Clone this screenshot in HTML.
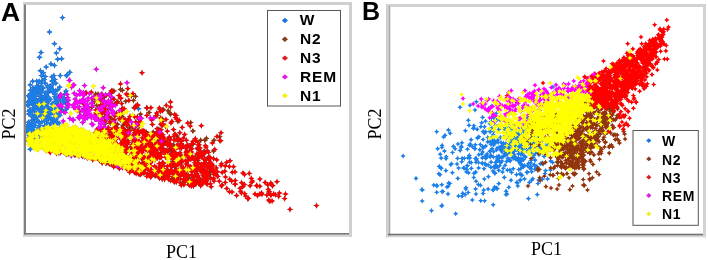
<!DOCTYPE html>
<html><head><meta charset="utf-8"><style>
html,body{margin:0;padding:0;background:#fff;}
body{width:708px;height:260px;position:relative;overflow:hidden;}
.lbl{position:absolute;font-family:"Liberation Sans",Arial,sans-serif;font-weight:bold;font-size:25px;line-height:1;color:#000;}
.ax{position:absolute;font-family:"Liberation Serif","Times New Roman",serif;font-size:18px;line-height:1;color:#000;white-space:nowrap;}
.leg{position:absolute;font-family:"Liberation Sans",Arial,sans-serif;font-weight:bold;color:#000;white-space:nowrap;line-height:1;}
svg{position:absolute;left:0;top:0;}
</style></head><body>
<svg width="708" height="260" viewBox="0 0 708 260">
<defs><filter id="bl" filterUnits="userSpaceOnUse" x="0" y="0" width="708" height="260"><feGaussianBlur stdDeviation="0.4"/></filter>
<marker id="aoW" markerUnits="userSpaceOnUse" markerWidth="1" markerHeight="1" overflow="visible"><path d="M0 -3.3L0.95 -0.95L3.3 0L0.95 0.95L0 3.3L-0.95 0.95L-3.3 0L-0.95 -0.95Z" fill="#1656b0"/></marker>
<marker id="aiW" markerUnits="userSpaceOnUse" markerWidth="1" markerHeight="1" overflow="visible"><path d="M0 -2.3L0.9 -0.9L2.3 0L0.9 0.9L0 2.3L-0.9 0.9L-2.3 0L-0.9 -0.9Z" fill="#1f7fe8"/></marker>
<marker id="aoN2" markerUnits="userSpaceOnUse" markerWidth="1" markerHeight="1" overflow="visible"><path d="M0 -3.3L0.95 -0.95L3.3 0L0.95 0.95L0 3.3L-0.95 0.95L-3.3 0L-0.95 -0.95Z" fill="#6e2a0c"/></marker>
<marker id="aiN2" markerUnits="userSpaceOnUse" markerWidth="1" markerHeight="1" overflow="visible"><path d="M0 -2.3L0.9 -0.9L2.3 0L0.9 0.9L0 2.3L-0.9 0.9L-2.3 0L-0.9 -0.9Z" fill="#923610"/></marker>
<marker id="aoN3" markerUnits="userSpaceOnUse" markerWidth="1" markerHeight="1" overflow="visible"><path d="M0 -3.3L0.95 -0.95L3.3 0L0.95 0.95L0 3.3L-0.95 0.95L-3.3 0L-0.95 -0.95Z" fill="#a81818"/></marker>
<marker id="aiN3" markerUnits="userSpaceOnUse" markerWidth="1" markerHeight="1" overflow="visible"><path d="M0 -2.3L0.9 -0.9L2.3 0L0.9 0.9L0 2.3L-0.9 0.9L-2.3 0L-0.9 -0.9Z" fill="#ff0000"/></marker>
<marker id="aoREM" markerUnits="userSpaceOnUse" markerWidth="1" markerHeight="1" overflow="visible"><path d="M0 -3.3L0.95 -0.95L3.3 0L0.95 0.95L0 3.3L-0.95 0.95L-3.3 0L-0.95 -0.95Z" fill="#a414a8"/></marker>
<marker id="aiREM" markerUnits="userSpaceOnUse" markerWidth="1" markerHeight="1" overflow="visible"><path d="M0 -2.3L0.9 -0.9L2.3 0L0.9 0.9L0 2.3L-0.9 0.9L-2.3 0L-0.9 -0.9Z" fill="#ff00ff"/></marker>
<marker id="aoN1" markerUnits="userSpaceOnUse" markerWidth="1" markerHeight="1" overflow="visible"><path d="M0 -3.3L0.95 -0.95L3.3 0L0.95 0.95L0 3.3L-0.95 0.95L-3.3 0L-0.95 -0.95Z" fill="#e8d800"/></marker>
<marker id="aiN1" markerUnits="userSpaceOnUse" markerWidth="1" markerHeight="1" overflow="visible"><path d="M0 -2.3L0.9 -0.9L2.3 0L0.9 0.9L0 2.3L-0.9 0.9L-2.3 0L-0.9 -0.9Z" fill="#ffff00"/></marker>
<marker id="boW" markerUnits="userSpaceOnUse" markerWidth="1" markerHeight="1" overflow="visible"><path d="M0 -2.8L0.8 -0.8L2.8 0L0.8 0.8L0 2.8L-0.8 0.8L-2.8 0L-0.8 -0.8Z" fill="#1f7fe8"/></marker>
<marker id="biW" markerUnits="userSpaceOnUse" markerWidth="1" markerHeight="1" overflow="visible"><path d="M0 -2L0.85 -0.85L2 0L0.85 0.85L0 2L-0.85 0.85L-2 0L-0.85 -0.85Z" fill="#1f7fe8"/></marker>
<marker id="boN2" markerUnits="userSpaceOnUse" markerWidth="1" markerHeight="1" overflow="visible"><path d="M0 -2.8L0.8 -0.8L2.8 0L0.8 0.8L0 2.8L-0.8 0.8L-2.8 0L-0.8 -0.8Z" fill="#923610"/></marker>
<marker id="biN2" markerUnits="userSpaceOnUse" markerWidth="1" markerHeight="1" overflow="visible"><path d="M0 -2L0.85 -0.85L2 0L0.85 0.85L0 2L-0.85 0.85L-2 0L-0.85 -0.85Z" fill="#923610"/></marker>
<marker id="boN3" markerUnits="userSpaceOnUse" markerWidth="1" markerHeight="1" overflow="visible"><path d="M0 -2.8L0.8 -0.8L2.8 0L0.8 0.8L0 2.8L-0.8 0.8L-2.8 0L-0.8 -0.8Z" fill="#ff0000"/></marker>
<marker id="biN3" markerUnits="userSpaceOnUse" markerWidth="1" markerHeight="1" overflow="visible"><path d="M0 -2L0.85 -0.85L2 0L0.85 0.85L0 2L-0.85 0.85L-2 0L-0.85 -0.85Z" fill="#ff0000"/></marker>
<marker id="boREM" markerUnits="userSpaceOnUse" markerWidth="1" markerHeight="1" overflow="visible"><path d="M0 -2.8L0.8 -0.8L2.8 0L0.8 0.8L0 2.8L-0.8 0.8L-2.8 0L-0.8 -0.8Z" fill="#ff00ff"/></marker>
<marker id="biREM" markerUnits="userSpaceOnUse" markerWidth="1" markerHeight="1" overflow="visible"><path d="M0 -2L0.85 -0.85L2 0L0.85 0.85L0 2L-0.85 0.85L-2 0L-0.85 -0.85Z" fill="#ff00ff"/></marker>
<marker id="boN1" markerUnits="userSpaceOnUse" markerWidth="1" markerHeight="1" overflow="visible"><path d="M0 -2.8L0.8 -0.8L2.8 0L0.8 0.8L0 2.8L-0.8 0.8L-2.8 0L-0.8 -0.8Z" fill="#ffff00"/></marker>
<marker id="biN1" markerUnits="userSpaceOnUse" markerWidth="1" markerHeight="1" overflow="visible"><path d="M0 -2L0.85 -0.85L2 0L0.85 0.85L0 2L-0.85 0.85L-2 0L-0.85 -0.85Z" fill="#ffff00"/></marker></defs>
<!-- panel A frame -->
<rect x="23" y="2" width="329" height="3" fill="#cfcfcf"/>
<rect x="349" y="2" width="3" height="235" fill="#cfcfcf"/>
<rect x="23" y="2" width="1" height="235" fill="#d4d4d4"/>
<rect x="23" y="234.5" width="329" height="2.3" fill="#d2d2d2"/>
<g fill="none" stroke="none" stroke-linecap="butt" filter="url(#bl)">
<defs><polyline id="paW" points="62.5,17.6 49.5,32.0 54.5,43.8 59.7,48.7 41.0,52.5 39.5,57.3 56.4,53.0 57.7,59.2 61.6,58.8 51.0,64.0 46.2,67.0 54.5,65.4 40.4,70.8 43.3,72.7 41.4,75.6 45.2,76.5 53.9,75.6 60.2,75.6 67.3,74.6 69.8,72.3 32.7,81.3 42.3,80.4 45.2,83.3 54.8,79.4 55.8,83.3 50.0,86.2 59.7,87.1 43.3,88.0 66.5,75.8 138.5,108.8 35.9,88.9 53.6,91.9 49.0,112.3 28.8,114.0 29.8,110.3 33.0,87.8 42.0,122.0 33.0,97.1 51.4,112.8 60.3,101.0 30.5,90.3 36.8,131.7 33.3,117.6 51.1,108.4 49.1,89.0 30.0,96.7 50.3,112.7 39.7,115.2 46.8,103.0 53.9,127.8 36.6,119.2 55.7,101.2 38.9,129.3 32.2,111.7 28.4,122.3 58.3,116.0 60.9,97.6 52.8,119.8 52.5,109.7 44.7,125.8 27.6,125.7 63.1,101.5 44.5,120.3 33.0,95.1 34.3,125.8 29.7,100.6 38.6,107.7 34.4,94.7 37.2,108.3 47.8,98.8 41.0,115.6 48.0,123.3 53.1,89.8 44.8,108.2 39.9,89.8 39.5,89.9 28.4,95.8 29.4,103.0 47.8,91.5 36.0,99.9 39.9,91.5 45.8,110.4 39.6,98.6 59.2,96.6 29.9,141.6 45.2,92.9 41.5,92.2 34.6,105.7 34.0,124.3 48.5,128.0 34.6,98.8 38.1,109.3 42.2,88.1 28.3,102.2 39.6,122.8 66.4,109.1 66.0,103.7 34.5,102.6 35.0,96.6 56.8,109.9 29.9,124.0 57.1,113.1 33.0,132.0 38.3,127.9 67.1,107.5 54.3,93.7 30.4,95.7 32.7,127.6 41.1,116.1 56.5,99.3 35.4,101.0 37.6,121.0 34.7,109.7 29.1,140.9 38.9,113.7 44.4,116.7 52.5,80.7 42.5,97.1 38.3,111.8 50.9,118.2 34.7,116.9 46.8,128.7 33.4,116.6 32.5,96.7 59.8,115.3 46.4,129.2 63.7,111.6 44.9,112.5 48.7,125.2 46.3,108.7 64.1,101.2 66.0,91.0 30.0,110.0 31.1,97.9 31.8,120.2 32.8,123.4 52.8,92.0 37.9,115.0 33.2,107.9 47.1,106.8 31.4,102.9 49.5,111.1 54.1,114.5 30.2,99.6 28.2,127.0 34.3,91.1 57.3,98.4 29.1,137.2 45.5,125.5 51.0,109.8 32.3,137.2 27.5,132.4 29.0,128.3 42.6,104.7 35.5,93.2 48.9,100.8 32.6,96.2 37.8,101.7 55.9,97.3 45.2,95.5 37.4,86.9 56.6,115.3 38.8,105.1 58.2,104.8 44.2,120.0 33.5,131.3 55.6,119.6 43.6,99.2 30.3,93.9 28.9,124.5 37.8,93.6 29.9,130.2 31.7,99.0 38.2,112.7 30.1,110.0 39.9,105.6 29.1,111.6 42.7,108.3 36.2,117.1 28.5,102.3 28.0,105.8 40.4,96.3 44.9,112.1 62.3,126.3 39.9,101.8 55.5,118.9 31.0,130.9 59.0,123.1 30.1,114.8 53.3,122.7 32.1,103.7 45.2,118.0 51.0,122.9 47.5,115.2 50.4,87.8 50.2,99.2 30.2,101.7 54.9,96.6 48.1,106.7 47.0,124.4 57.2,122.6 50.3,89.3 29.9,97.7 59.6,106.8 28.5,101.9 55.8,125.4 56.0,98.5 45.1,112.2 48.2,92.7 59.6,95.9 47.7,98.9 34.5,122.8 34.6,115.1 57.3,114.5 39.3,136.0 48.6,87.6 45.1,105.6 28.1,104.4 39.2,129.9 64.6,94.1 62.9,97.8 45.7,107.4 40.3,106.3 36.9,85.9 30.2,132.2 36.1,101.0 44.3,99.8 53.1,84.1 54.8,108.4 53.6,119.9 38.2,85.7 44.5,108.1 39.6,125.5 65.4,99.7 52.1,104.1 48.1,101.3 32.6,92.5 35.9,133.4 46.3,103.3 41.4,90.7 30.2,84.9 35.0,91.8 34.0,95.3 52.3,109.8 40.6,113.4 41.9,107.7 33.3,103.6 46.5,120.5 65.0,101.2 36.1,100.6 42.7,110.2 60.5,107.7 67.9,100.8 49.1,118.1 48.9,117.8 32.7,125.2 53.1,103.5 31.6,100.0 54.1,120.0 43.9,114.0 40.1,96.6 39.0,111.5 61.4,110.0 34.3,101.7 40.2,87.4 45.1,126.3 41.3,101.5 42.4,108.0 55.4,93.9 48.7,97.6 60.8,104.5 56.6,101.7 33.2,126.7 46.5,95.3 35.6,107.1 55.7,90.8 36.8,81.3 50.1,86.5 41.6,83.4 47.6,85.9 40.3,92.0 44.2,79.6 52.3,81.3 39.1,81.3 37.2,88.1 57.7,89.8 51.9,76.9 34.6,138.5 27.5,132.1 30.8,128.2 29.7,130.0 28.9,128.1 30.2,129.5 32.8,127.2 27.9,130.0 30.2,134.8 28.5,140.2 33.0,125.9 29.7,142.2 32.7,136.0 33.9,133.7 29.3,141.5 32.1,143.2 31.9,127.0 34.3,142.1 31.6,134.0 30.9,139.6 27.8,130.5 31.9,140.2 32.9,132.1 28.9,135.1 33.4,129.7 74.5,155.0 82.1,155.9 109.2,163.5 110.8,163.8 65.7,153.5 70.5,154.1 30.3,149.3 56.7,152.0 58.7,152.8 70.7,155.1 92.6,158.5 118.2,167.2"/></defs>
<use href="#paW" marker-start="url(#aoW)" marker-mid="url(#aoW)" marker-end="url(#aoW)"/>
<use href="#paW" marker-start="url(#aiW)" marker-mid="url(#aiW)" marker-end="url(#aiW)"/>
<defs><polyline id="paN2" points="197.6,181.3 180.5,140.7 109.2,135.4 137.4,134.0 203.1,172.4 168.5,174.1 176.2,178.8 189.7,178.0 120.5,165.5 160.0,174.7 163.4,140.6 121.6,133.1 153.2,138.8 153.5,154.5 148.4,158.2 174.5,180.0 136.4,148.3 172.9,161.4 156.6,156.6 180.8,161.3 138.8,153.9 159.1,171.0 123.6,147.4 145.2,159.9 197.2,148.6 157.1,140.4 175.8,180.1 133.5,146.3 128.1,164.9 174.8,174.5 197.9,160.6 104.4,147.2 208.0,157.9 171.9,179.0 200.5,166.9 174.7,166.8 181.9,161.6 171.4,153.5 116.2,127.2 190.0,182.2 174.3,149.5 193.7,180.1 163.8,141.5 130.6,149.7 137.3,152.6 98.3,159.1 99.3,131.2 195.5,157.8 146.0,131.9 177.1,179.0 170.2,171.2 134.1,158.0 150.0,170.8 138.6,163.8 173.8,145.1 210.3,171.3 157.4,147.8 179.9,174.4 135.0,165.9 204.5,180.7 169.4,138.2 142.5,162.8 149.1,163.2 199.7,179.1 192.4,182.8 161.7,140.1 196.0,175.6 138.3,130.6 166.5,174.3 171.7,166.1 153.1,132.2 190.6,153.4 199.7,156.0 151.1,160.0 111.1,135.3 136.9,159.0 140.1,157.2 115.2,127.1 169.6,149.5 202.4,154.7 162.7,144.8 186.8,151.5 209.7,174.5 124.9,129.6 122.3,138.4 164.1,176.4 162.8,148.2 127.3,165.1 171.7,150.7 146.2,132.9 120.8,129.5 126.3,150.7 200.4,184.7 192.2,169.9 103.1,132.4 182.3,183.0 174.3,152.5 164.5,177.7 108.3,146.3 128.1,130.5 155.5,136.7 119.1,135.8 200.7,182.3 116.5,151.9 197.6,166.8 146.6,150.0 189.4,151.2 123.2,125.3 180.3,154.9 127.2,147.5 114.7,137.5 116.5,155.1 152.5,142.8 126.3,133.7 168.2,110.7 206.4,138.4 149.1,112.5 134.3,107.7 204.8,140.3 160.0,109.4 214.0,140.3 170.7,114.1 162.5,119.3 190.7,122.6 161.1,124.3 106.0,95.6 177.9,121.4 157.1,115.3 169.5,113.0 98.0,94.1 95.7,94.1 102.5,96.7 146.9,107.7 120.5,89.4 111.9,97.8 135.5,96.4 163.1,109.2 131.4,95.7 113.9,91.0 94.5,101.7 133.5,100.4 162.3,121.3 122.3,90.3 125.8,101.2 219.5,136.7 97.0,105.2 192.9,131.0 104.3,96.8 79.6,111.1 105.3,123.5 99.8,116.6 133.7,129.0 193.0,144.2 158.9,129.2 111.1,118.2 103.7,101.4 135.8,126.3 129.5,127.7 117.8,101.8 135.6,125.8 213.5,151.1 176.9,136.1 91.8,107.4 105.9,113.8 148.7,134.3 125.8,122.8 122.0,116.2 204.2,151.0 110.6,123.3 117.5,124.2 107.2,102.2 100.0,116.1 114.2,119.6 140.5,114.1 99.6,107.9 200.7,140.2 169.6,137.9 139.4,119.2 104.7,117.0 189.2,184.2 105.7,163.2 150.9,175.0 155.1,175.9 68.0,154.2 66.4,154.3 106.8,163.0 143.7,172.9"/></defs>
<use href="#paN2" marker-start="url(#aoN2)" marker-mid="url(#aoN2)" marker-end="url(#aoN2)"/>
<use href="#paN2" marker-start="url(#aiN2)" marker-mid="url(#aiN2)" marker-end="url(#aiN2)"/>
<defs><polyline id="paN3" points="179.8,132.8 132.9,93.6 103.4,97.2 162.1,125.6 165.6,126.2 195.8,140.9 146.9,108.1 102.0,94.1 114.0,99.3 201.3,125.7 195.3,138.6 124.1,108.8 175.5,117.6 214.7,149.5 92.1,98.9 120.5,98.0 119.1,95.5 182.2,127.4 171.9,121.4 135.6,106.1 134.7,108.1 137.8,105.6 109.1,94.5 217.0,136.5 179.2,120.4 162.8,124.0 176.8,119.3 156.8,113.0 111.2,93.2 161.6,123.3 212.4,143.0 97.0,98.2 137.3,104.6 85.8,93.5 128.9,100.5 150.9,107.7 160.7,118.0 151.5,119.9 146.8,115.4 184.7,134.5 187.8,123.0 197.9,142.2 99.8,99.3 116.8,102.5 127.9,95.1 159.4,108.0 84.8,108.8 221.0,132.8 112.3,91.0 162.5,110.7 156.0,115.8 83.4,103.8 166.3,105.4 190.3,126.1 126.3,94.0 120.7,98.4 176.0,115.5 91.3,92.2 127.8,88.6 174.7,114.5 122.4,108.4 207.4,150.8 191.7,143.8 98.3,131.9 100.8,105.0 107.0,113.8 118.2,114.8 142.4,132.3 125.7,119.8 208.5,152.4 178.2,140.6 131.9,126.1 204.9,152.8 114.2,120.1 139.3,125.9 108.2,117.9 135.8,121.9 118.9,114.5 183.4,138.1 109.1,116.4 138.4,122.8 159.2,136.5 109.8,121.9 100.8,127.1 204.3,152.5 130.0,116.4 114.9,116.0 101.9,128.6 104.5,111.5 99.6,130.7 161.0,129.8 119.2,116.5 204.6,152.9 181.6,141.2 102.6,113.4 124.0,119.2 95.9,113.0 104.5,102.0 205.4,145.6 112.7,105.4 167.3,131.2 120.3,114.9 110.4,102.7 198.8,144.5 100.8,120.2 122.1,110.4 108.3,109.1 152.4,124.5 120.4,120.0 101.2,100.4 105.8,102.8 198.5,149.5 137.3,116.9 103.2,104.8 157.1,128.8 199.9,148.0 128.7,119.3 134.5,116.8 104.2,121.7 127.6,124.1 95.8,109.9 104.7,111.1 100.9,114.0 116.3,128.0 178.4,139.6 119.2,118.4 121.4,114.0 116.0,103.5 128.9,120.1 198.0,147.8 96.6,112.9 174.8,134.3 109.9,107.1 175.5,134.6 128.0,120.1 126.5,125.2 116.6,113.3 140.2,121.2 105.5,105.5 104.7,108.6 138.5,122.5 101.3,110.1 121.7,103.6 106.3,119.4 97.3,129.1 198.1,164.1 199.1,180.4 167.8,140.2 127.1,168.5 133.9,162.6 133.0,150.2 150.7,137.2 100.4,131.1 113.3,128.9 170.9,170.0 181.4,147.3 151.6,139.0 204.1,159.5 101.5,133.7 175.3,154.4 194.4,171.3 106.6,158.8 192.2,171.7 124.2,132.2 178.8,163.5 110.5,139.4 170.0,139.9 124.8,147.4 160.5,165.7 120.9,144.6 172.1,164.7 118.0,146.3 177.2,145.3 109.4,140.4 186.4,179.0 128.7,170.1 158.4,133.0 205.9,177.9 153.1,134.2 107.1,156.1 156.8,153.0 181.6,156.3 104.8,150.2 153.7,140.8 134.3,152.2 177.5,172.5 136.9,154.9 211.1,186.8 150.8,165.9 126.8,124.2 111.8,150.8 170.1,143.6 189.3,152.7 105.5,148.4 96.9,142.3 109.5,132.0 118.0,156.1 143.8,148.0 108.7,146.6 126.9,168.0 200.7,185.8 163.0,143.6 147.4,174.0 134.6,138.1 121.4,152.8 129.7,135.7 150.5,177.0 197.9,158.4 197.7,175.4 124.8,151.4 141.0,145.1 144.0,131.8 145.5,165.4 204.4,174.1 181.5,174.3 172.8,149.3 163.7,143.6 193.7,177.4 206.4,175.1 172.3,171.7 164.6,152.6 136.2,173.4 190.5,181.4 122.5,148.3 129.6,130.9 105.2,128.8 150.5,150.9 191.2,185.9 130.1,164.5 200.9,151.8 201.2,170.0 165.1,173.4 156.6,152.7 136.5,148.3 212.8,169.5 145.7,169.1 161.1,172.7 192.5,143.8 145.5,149.1 120.4,143.9 136.8,171.2 115.4,162.2 158.7,170.2 201.3,164.4 185.1,181.6 122.8,132.3 199.1,182.7 173.6,176.8 145.1,155.8 127.2,141.9 139.0,163.9 174.9,170.8 123.4,141.7 158.8,135.4 117.0,161.0 176.3,169.5 185.3,168.1 105.2,134.0 193.2,168.0 113.9,153.3 124.7,141.4 113.7,149.9 170.0,143.6 113.7,136.6 105.8,138.0 137.4,156.7 112.7,156.4 157.2,136.4 113.3,129.2 136.4,146.5 145.6,143.5 179.3,147.6 192.4,169.1 139.1,169.4 150.0,144.3 160.3,166.1 114.8,146.8 198.2,177.2 163.6,166.2 162.0,150.4 116.6,131.0 202.5,180.0 101.5,141.4 152.7,156.5 137.1,155.1 206.2,165.6 150.6,146.7 135.5,159.7 139.7,150.4 159.3,141.3 98.1,139.8 114.8,139.2 100.8,144.2 184.3,172.5 203.6,182.6 147.5,135.6 187.6,181.2 135.9,132.5 203.0,175.0 178.8,162.6 110.9,137.7 116.9,160.6 143.4,150.3 123.4,138.0 117.7,137.2 132.1,169.8 105.3,158.3 146.9,176.4 161.3,150.5 200.8,166.7 137.9,149.9 210.7,178.1 201.9,156.2 112.8,138.2 141.9,168.4 188.3,160.1 144.6,163.6 166.8,169.3 169.8,144.9 142.8,142.5 206.5,175.4 188.4,175.5 134.8,170.7 128.8,162.9 151.4,140.2 206.3,177.0 167.3,152.0 126.0,136.8 198.9,152.8 181.6,169.1 107.1,155.0 174.0,140.1 143.6,160.6 185.0,175.7 176.3,146.0 98.6,151.2 151.2,155.1 183.1,167.7 115.8,132.0 116.7,162.1 134.9,135.2 202.5,165.6 217.8,176.4 174.5,155.9 200.2,153.0 194.7,170.6 152.2,172.7 161.8,149.3 116.2,133.7 154.0,152.1 125.3,148.0 162.3,172.0 111.8,161.8 163.3,144.5 99.0,133.4 103.4,139.3 171.4,154.8 209.8,167.9 171.1,157.4 197.5,169.2 139.1,163.0 160.2,138.5 198.3,167.1 176.2,180.5 101.2,149.6 162.2,179.1 95.0,132.8 155.1,149.9 127.2,131.1 136.0,168.5 183.1,160.3 125.1,135.1 117.8,135.6 165.2,172.0 115.3,160.5 165.5,157.2 145.0,162.4 144.2,141.1 109.1,159.1 137.6,141.8 176.3,179.3 148.4,156.6 204.8,166.0 111.3,130.0 101.7,144.2 142.1,142.2 124.3,134.8 136.0,144.9 205.0,170.4 147.1,139.1 100.8,133.1 196.4,165.8 113.7,166.8 102.1,157.1 135.1,133.3 182.9,172.5 154.9,137.3 180.1,152.9 121.5,147.2 120.6,130.6 137.4,140.2 144.4,172.8 147.7,134.0 100.2,159.2 108.6,158.1 150.9,134.7 173.0,153.7 206.4,177.0 156.6,134.4 180.9,164.9 137.4,130.4 166.0,172.6 138.3,173.5 141.0,165.6 194.5,169.1 140.5,170.6 203.2,172.9 198.0,162.8 211.8,164.1 210.1,162.2 116.3,154.9 148.1,145.5 139.9,155.4 164.1,138.7 128.4,158.1 157.5,152.5 161.6,140.0 188.9,170.3 186.1,155.9 157.4,148.8 126.7,149.0 183.8,178.7 153.1,174.4 118.3,153.1 140.3,143.5 177.5,161.3 171.6,165.6 127.0,125.3 141.9,130.2 190.6,169.7 151.1,147.1 127.9,160.0 181.2,185.3 194.2,179.8 146.6,147.7 126.2,134.3 197.8,179.3 144.8,134.6 190.3,147.6 147.4,150.5 163.4,141.7 139.2,174.1 134.0,167.9 169.6,145.9 163.6,163.6 131.6,165.1 167.6,157.5 103.5,136.0 131.9,153.5 122.5,165.7 186.1,176.2 102.9,149.0 123.0,166.7 186.4,179.5 163.4,148.8 100.2,151.2 104.1,128.1 140.3,150.3 162.1,144.6 176.0,156.8 160.0,157.8 135.4,148.7 167.6,166.0 127.7,131.8 160.2,144.5 135.3,154.2 144.5,135.1 175.6,171.2 150.9,151.7 150.7,173.5 140.3,170.0 100.3,137.3 211.4,165.4 178.3,154.5 151.6,138.9 115.0,165.7 180.9,145.7 151.7,142.6 154.7,166.2 110.0,144.7 176.0,165.0 168.5,171.2 159.7,135.8 151.3,176.3 167.8,174.0 139.6,154.8 213.3,179.1 191.9,156.4 177.0,155.5 96.4,150.6 108.2,127.4 115.1,143.3 201.6,181.6 206.0,180.2 162.4,162.8 172.4,154.0 191.4,152.0 174.0,149.5 122.7,140.6 156.6,156.5 183.6,179.5 137.8,135.6 138.3,170.3 175.2,149.3 159.0,135.0 158.0,175.7 108.6,142.0 171.1,154.7 137.1,161.1 123.8,154.5 159.2,163.6 200.4,171.2 177.2,177.2 149.3,168.1 102.8,146.0 161.0,133.4 144.7,137.5 117.2,158.6 121.2,154.8 160.8,153.9 115.4,123.9 187.5,160.9 161.5,138.4 163.3,170.8 143.0,158.1 163.6,169.2 124.6,130.1 122.6,128.3 154.1,137.8 132.4,155.2 139.0,173.8 136.0,133.0 179.6,171.1 138.1,149.7 154.8,151.9 142.9,171.5 192.9,157.0 109.9,147.1 173.3,159.1 148.4,160.1 120.5,160.8 173.2,165.2 194.8,157.7 111.9,141.4 179.1,169.4 119.4,168.5 172.1,166.1 134.3,159.7 134.2,134.6 178.2,138.5 162.2,175.2 142.4,137.8 147.3,157.3 143.8,130.7 154.2,145.3 148.5,141.4 173.4,173.8 141.2,172.0 128.8,133.8 103.6,154.0 142.8,170.6 122.9,132.7 154.3,152.4 207.1,184.3 126.2,159.2 133.7,162.0 107.4,154.7 100.7,132.6 122.2,130.5 104.8,134.0 191.8,148.9 127.9,140.8 168.5,176.5 108.3,129.4 180.8,160.3 183.5,145.9 159.1,134.5 144.7,139.2 167.7,145.3 128.8,163.4 157.6,143.4 108.7,156.8 158.4,171.6 143.2,150.0 169.3,137.0 190.8,159.4 115.4,142.6 149.8,170.1 105.5,152.0 176.5,165.9 104.7,139.3 140.3,147.0 177.5,171.7 172.6,148.9 166.4,157.2 213.2,172.3 182.4,173.3 206.9,174.8 189.1,157.5 132.1,146.5 192.4,180.5 195.9,166.4 114.5,141.4 162.7,142.6 135.0,132.5 126.3,142.3 147.4,148.2 124.4,123.2 161.2,157.2 123.0,142.8 191.7,167.6 110.8,157.8 126.2,147.3 161.4,176.2 172.7,163.1 213.6,178.2 166.1,143.6 109.9,150.1 170.5,164.0 207.4,172.0 150.0,151.4 186.4,140.2 176.4,182.0 113.0,130.9 151.0,146.3 149.2,174.3 101.7,156.5 185.7,161.3 123.4,146.0 152.9,147.9 177.4,154.8 135.7,162.9 105.1,128.4 194.8,162.7 134.8,141.4 160.3,146.3 153.1,156.2 195.6,164.3 109.5,162.0 203.9,165.8 192.1,183.1 122.3,159.4 144.0,139.7 186.2,164.1 135.5,155.7 205.8,159.9 209.4,163.1 148.3,161.9 171.4,154.8 170.5,157.9 169.0,173.9 125.9,152.5 126.8,168.5 160.0,157.3 133.4,158.9 211.6,170.0 154.4,146.6 117.0,162.2 97.6,140.0 143.5,159.5 136.6,135.7 116.5,147.0 177.5,163.5 157.8,131.6 191.6,174.7 180.9,175.3 170.5,180.5 193.7,183.2 134.4,170.4 177.9,175.9 168.5,144.5 128.6,163.1 182.1,168.4 188.1,145.8 103.1,144.7 185.2,155.4 105.3,148.7 103.8,146.6 175.1,181.3 141.9,152.6 98.6,145.8 179.6,172.3 160.7,168.1 108.3,150.2 128.2,142.4 132.8,140.5 198.1,163.2 149.6,149.8 204.9,180.6 148.0,161.2 127.1,132.4 155.9,174.9 112.6,150.3 111.4,164.1 183.9,184.8 176.5,147.4 155.1,142.2 149.9,151.0 201.4,183.6 204.0,163.1 198.7,177.9 153.5,150.1 139.3,150.3 209.2,160.0 137.2,133.5 101.4,157.5 165.3,154.4 136.0,148.6 172.1,157.5 150.3,136.5 133.1,155.6 167.3,143.0 103.9,132.6 134.5,172.5 187.4,153.5 157.6,158.0 103.7,132.7 170.5,166.1 102.1,163.0 99.5,160.3 171.0,146.1 146.4,138.9 119.8,137.8 188.3,152.9 181.3,148.4 190.3,166.8 173.9,153.3 163.4,137.2 211.1,164.5 161.0,167.1 109.3,145.2 196.8,173.4 180.5,144.0 125.3,167.2 129.7,172.2 165.1,174.3 157.9,147.5 187.6,145.5 160.9,171.1 125.7,166.7 188.2,165.3 146.2,168.3 162.9,162.5 131.9,146.6 109.3,146.2 183.0,160.8 114.2,128.6 125.7,159.9 187.9,170.3 163.1,144.9 135.3,140.9 117.5,129.7 141.1,131.9 115.5,138.5 168.1,150.2 131.9,154.8 187.5,176.1 196.0,159.2 149.6,149.7 204.0,176.6 124.5,156.1 151.3,169.6 116.3,161.9 100.4,141.8 111.9,134.6 162.3,138.7 174.2,182.0 110.4,140.0 186.9,150.9 185.1,174.0 183.3,168.6 130.0,168.0 141.8,172.9 140.7,174.5 149.6,170.8 131.4,156.2 175.6,152.7 182.1,172.5 170.1,172.9 129.7,130.6 100.9,130.9 121.2,133.0 201.2,169.5 195.5,168.4 152.5,160.7 110.4,158.9 127.4,142.9 149.5,163.5 154.8,154.8 139.0,133.3 204.8,158.6 202.1,168.5 184.1,173.5 119.0,159.9 166.0,176.8 116.1,148.6 196.2,174.2 120.6,135.1 184.1,173.9 172.1,173.2 154.9,159.8 205.4,162.4 176.6,160.3 154.9,174.1 144.8,147.2 149.3,161.3 137.8,152.4 148.4,146.1 142.3,149.0 165.4,151.5 121.7,128.0 196.2,183.5 131.7,158.5 135.0,130.5 206.4,171.8 119.8,145.6 184.8,176.6 151.6,150.0 198.7,177.6 108.7,162.1 214.9,171.7 152.5,135.6 172.6,158.2 195.5,184.0 166.5,150.2 127.1,144.0 160.9,144.2 144.6,165.9 169.9,145.1 99.4,129.6 162.8,134.8 133.4,161.5 201.8,156.1 124.7,159.5 113.1,138.2 116.2,138.7 110.8,138.0 132.7,147.6 185.7,148.3 149.2,150.4 187.9,180.9 156.1,167.8 139.1,141.1 138.6,170.8 152.2,156.7 122.8,133.4 135.0,171.1 186.1,152.6 102.4,140.5 158.1,145.2 123.8,141.5 131.6,144.9 194.0,176.7 180.4,179.3 99.2,130.5 126.7,157.6 194.6,160.3 147.8,136.6 207.5,173.6 176.0,139.9 110.2,136.7 171.8,164.2 126.5,143.9 135.3,136.7 124.4,140.2 172.7,163.2 155.2,133.5 112.6,138.6 159.4,155.1 163.1,170.5 201.3,154.7 272.1,201.0 232.3,172.2 275.4,194.7 250.1,185.8 226.8,188.5 224.8,171.3 192.0,143.9 269.2,191.5 225.5,176.9 225.3,166.0 225.3,182.4 255.0,194.0 265.2,182.5 222.2,185.0 235.0,171.9 249.3,173.4 199.8,157.1 216.2,175.0 207.5,165.7 203.3,154.2 273.7,193.9 206.7,181.1 214.0,181.1 259.9,179.1 251.3,178.4 219.3,181.2 248.6,198.4 241.6,182.7 235.2,184.1 272.3,185.7 213.6,158.6 221.0,165.6 232.0,192.0 229.4,166.5 242.8,186.7 278.7,196.4 216.3,167.9 213.6,174.3 210.4,183.8 268.8,200.1 226.7,162.3 222.2,172.5 267.7,184.8 216.8,159.9 199.7,154.6 208.0,168.1 196.8,153.9 270.9,195.4 221.4,185.9 259.8,186.2 256.6,185.4 244.4,184.5 240.7,191.3 233.5,166.7 213.1,165.7 269.9,201.2 236.6,195.5 207.6,175.3 266.9,195.1 207.4,179.2 257.5,195.6 245.6,196.1 252.4,181.1 259.9,194.0 244.8,193.8 262.0,194.3 235.1,184.2 241.3,192.9 217.5,171.7 235.2,180.5 198.8,154.7 229.7,179.3 205.6,182.2 244.5,174.6 231.6,181.1 205.1,174.2 240.1,188.2 272.7,185.5 229.5,191.8 191.9,184.6 117.8,165.6 159.5,177.2 174.2,181.4 193.5,186.0 135.3,172.3 168.5,179.3 56.6,153.4 50.2,152.5 189.3,185.2 191.8,185.7 159.3,177.5 75.6,154.8 158.9,177.1 60.0,153.1 82.4,156.3 180.2,182.8 159.7,178.1 109.9,163.9 109.1,163.5 164.6,179.4 87.7,158.0 74.5,154.4 149.6,175.5 92.8,159.8 316.5,205.6 290.0,209.4 284.6,198.6 285.5,194.0 279.4,193.0 277.0,181.7 270.8,183.0 268.3,189.4 269.2,193.0 261.5,193.0 257.0,186.0 251.7,182.3 247.7,198.6 243.0,173.0 230.0,160.8 209.0,156.8 221.5,163.8 220.7,140.7 210.0,157.5 170.5,102.0 170.5,107.0 160.5,111.3 166.0,119.5 171.0,123.0 173.5,129.5 174.0,136.3 178.5,138.8 193.0,141.3 198.5,145.0 206.0,147.0 219.8,140.5 181.0,143.8 187.3,145.0 142.0,72.8 120.5,83.9 111.3,90.8 86.0,92.5"/></defs>
<use href="#paN3" marker-start="url(#aoN3)" marker-mid="url(#aoN3)" marker-end="url(#aoN3)"/>
<use href="#paN3" marker-start="url(#aiN3)" marker-mid="url(#aiN3)" marker-end="url(#aiN3)"/>
<defs><polyline id="paREM" points="103.2,100.7 106.9,116.3 83.9,95.1 79.4,101.5 92.1,97.9 61.0,111.8 108.7,108.0 84.2,115.4 89.5,93.6 92.8,106.1 95.0,119.3 101.0,127.1 100.5,123.9 69.8,118.4 73.1,120.4 105.5,94.8 91.3,117.6 60.9,105.0 98.8,110.9 77.1,108.4 108.5,101.0 101.8,118.7 85.3,107.7 83.8,118.5 68.0,99.9 85.0,108.2 86.3,112.3 77.4,108.6 94.0,97.0 59.8,97.4 75.8,108.9 74.6,104.0 73.7,107.2 104.4,101.7 105.7,104.0 58.6,105.6 91.5,115.3 113.0,105.5 87.2,104.6 83.1,94.6 99.1,108.3 61.0,94.9 74.5,106.7 82.7,122.5 74.2,93.3 88.1,98.3 103.7,123.6 67.1,94.5 73.6,104.7 85.0,115.3 85.1,106.3 67.8,107.3 113.3,113.0 71.6,87.1 112.4,113.3 106.9,113.4 97.7,99.4 79.5,118.1 87.7,100.6 73.0,119.5 111.6,97.0 87.3,117.8 101.2,124.2 84.9,103.4 80.9,116.3 102.0,110.2 112.2,110.5 87.4,112.0 101.7,107.5 81.7,100.8 107.8,112.2 77.7,110.5 81.7,110.4 80.2,115.3 82.9,99.3 89.2,109.7 119.6,110.5 95.5,119.1 84.6,85.6 114.0,122.0 85.3,100.9 83.4,101.9 91.7,123.9 96.5,119.1 109.2,94.1 92.3,102.6 110.5,101.2 100.7,97.6 110.2,107.5 112.9,111.6 98.7,120.6 97.4,117.1 79.1,106.8 80.8,93.8 90.2,115.8 108.6,102.6 101.1,96.6 106.1,117.7 80.7,101.8 67.8,97.7 115.2,105.5 83.1,110.8 87.7,106.4 68.9,104.9 79.6,94.0 108.6,101.4 107.2,118.7 111.2,104.4 104.1,105.6 88.4,113.2 98.5,97.1 101.1,94.2 94.3,116.0 63.2,121.1 76.7,95.4 73.5,105.6 75.1,99.1 98.7,96.1 62.1,106.6 60.7,94.9 107.5,113.5 91.4,103.2 101.3,107.0 85.6,113.9 77.4,102.9 102.2,121.9 76.5,101.8 83.5,92.5 85.2,119.2 67.6,103.8 139.7,118.0 89.6,110.6 92.9,124.6 134.8,126.5 65.1,112.5 118.6,135.8 99.5,138.9 135.0,137.4 98.8,127.5 136.7,124.4 105.7,144.7 131.6,122.1 128.4,132.9 141.4,118.2 153.8,118.2 154.7,139.3 135.9,125.0 105.1,127.4 139.1,118.6 150.4,117.9 113.9,114.4 78.3,117.4 96.3,69.3 127.0,82.7 103.2,87.8 69.2,80.4 73.9,85.0 79.6,90.8 69.8,80.4 73.0,85.2 159.8,132.0 161.5,141.3 64.7,152.8 87.1,157.7 46.0,150.1 71.6,155.7 122.5,167.3 84.4,156.9 117.9,166.0 79.1,156.2 66.1,153.9 122.3,167.7"/></defs>
<use href="#paREM" marker-start="url(#aoREM)" marker-mid="url(#aoREM)" marker-end="url(#aoREM)"/>
<use href="#paREM" marker-start="url(#aiREM)" marker-mid="url(#aiREM)" marker-end="url(#aiREM)"/>
<defs><polyline id="paN1" points="30.5,139.8 69.0,131.7 57.0,145.7 54.4,133.3 69.8,147.0 57.3,145.3 94.2,137.0 30.1,133.8 94.2,149.5 83.9,140.0 37.1,136.9 34.6,148.8 49.5,147.9 48.9,132.4 58.9,129.8 87.8,133.4 81.5,145.8 62.1,126.2 87.1,146.6 58.9,143.6 40.0,145.7 48.2,139.4 61.8,135.5 76.0,128.5 42.2,139.3 56.9,143.4 69.1,150.7 46.3,138.9 87.8,143.8 31.5,141.8 86.9,142.6 55.0,149.1 75.9,131.1 49.9,144.5 54.3,146.8 56.9,137.6 99.1,151.3 64.5,140.4 92.6,134.9 81.3,133.1 68.6,134.8 101.0,141.2 100.5,145.9 53.5,147.9 99.4,152.4 90.7,146.9 72.4,131.2 91.0,148.9 76.2,137.4 84.7,144.7 84.3,153.9 90.2,149.3 95.9,149.5 58.3,140.4 93.2,148.9 43.9,145.5 54.1,148.7 95.0,140.8 86.6,142.7 62.0,127.3 51.4,143.9 67.6,132.1 74.5,149.4 48.1,126.9 49.9,133.4 91.0,157.7 94.0,150.9 73.7,141.9 91.2,146.2 51.6,145.0 64.2,132.1 77.1,155.3 37.4,144.2 78.8,142.6 80.3,130.5 72.1,145.4 82.6,135.3 100.7,152.1 80.5,139.2 80.2,152.6 57.3,144.2 82.7,130.7 94.9,138.3 36.4,147.0 44.5,141.9 81.9,151.1 72.3,129.0 80.2,145.7 98.6,155.9 67.2,137.7 78.3,150.6 65.9,142.1 95.6,139.6 87.2,156.8 104.0,139.8 38.6,146.5 64.3,138.2 87.7,134.8 44.8,140.0 63.5,136.4 29.0,141.6 83.1,146.0 102.6,160.8 80.0,134.5 56.2,128.6 54.7,151.8 48.9,131.8 75.0,133.4 60.6,134.4 87.3,137.6 49.8,141.2 69.6,148.8 50.2,147.7 67.1,150.1 71.8,150.3 57.4,130.5 54.0,136.9 66.1,142.3 95.2,140.6 49.9,144.1 87.9,144.3 84.2,144.3 83.2,144.0 72.0,141.1 69.1,144.7 36.5,148.8 84.6,134.2 81.6,137.0 72.3,154.3 67.4,136.5 48.0,147.6 84.4,133.2 29.2,134.0 75.1,141.4 86.5,153.2 52.7,149.1 37.5,149.3 76.5,133.5 81.9,132.0 102.9,145.1 97.6,151.7 74.6,142.2 81.8,151.8 76.7,135.5 102.2,158.4 40.5,134.0 66.9,131.0 57.7,152.1 45.6,143.2 90.6,140.0 53.8,144.9 37.4,142.7 91.0,155.5 69.1,140.7 80.6,133.7 72.6,142.7 87.0,141.1 61.1,133.7 56.2,147.4 53.7,134.7 59.6,129.4 44.3,131.8 67.6,153.7 79.8,155.5 57.6,143.7 31.9,136.6 94.2,138.4 96.2,156.0 50.4,132.1 31.2,144.9 68.4,132.0 92.9,141.8 37.7,147.9 48.4,127.3 81.9,147.0 46.7,134.3 56.0,144.8 42.4,141.9 68.9,136.0 72.0,147.3 55.7,129.4 69.0,145.2 70.4,152.9 96.7,145.9 90.3,146.5 58.9,131.4 64.5,151.5 89.0,157.4 59.9,147.3 84.2,138.7 69.6,130.4 70.5,150.4 67.0,140.7 54.3,141.2 94.3,135.2 80.2,146.1 46.0,137.2 82.5,135.3 37.9,149.2 54.6,146.1 43.8,139.9 92.9,135.5 95.3,135.9 40.9,139.6 86.8,148.4 98.7,142.2 60.5,131.3 87.8,146.4 101.5,159.9 63.4,137.8 98.1,155.2 78.7,135.8 36.6,132.2 47.3,133.1 71.6,138.2 29.2,144.8 29.9,143.0 73.8,145.8 103.8,154.2 100.8,160.9 54.1,145.0 36.0,134.6 59.2,144.8 67.5,147.7 91.7,138.4 104.2,147.2 54.7,149.3 83.5,149.6 79.5,138.7 82.5,137.8 43.6,131.3 69.4,133.3 47.6,134.1 57.2,140.8 101.0,146.3 67.1,139.4 70.4,154.3 68.4,144.0 53.0,132.8 57.6,148.2 62.8,148.6 79.9,131.1 71.3,133.3 85.7,140.7 29.5,140.8 59.2,152.3 49.1,129.9 48.9,149.2 71.1,139.8 39.8,146.8 32.1,142.8 45.9,140.6 71.3,153.2 77.6,143.0 52.2,146.6 66.1,146.2 76.7,145.1 62.9,150.4 48.9,144.7 99.9,153.1 70.0,139.0 37.8,140.6 58.5,140.3 47.4,143.4 68.7,129.4 79.4,150.6 40.4,133.8 29.2,142.2 80.0,139.7 69.7,148.4 76.3,140.7 46.6,131.1 75.5,152.9 57.4,134.4 85.4,141.2 95.2,140.8 97.8,151.0 32.3,136.9 59.9,142.8 69.9,137.2 97.3,152.5 94.9,157.6 78.1,131.1 50.8,150.0 57.1,136.2 77.3,133.4 36.0,148.0 55.8,145.4 52.1,139.4 105.3,158.8 63.3,149.7 96.5,140.6 97.6,153.8 49.1,138.0 80.6,132.4 46.2,133.7 102.3,159.2 79.6,141.3 69.2,132.2 44.4,139.2 54.9,152.0 46.3,134.3 93.8,152.5 99.1,155.3 40.6,144.5 91.2,154.4 42.0,145.0 75.7,127.2 76.4,140.7 70.9,145.9 55.2,125.7 86.6,154.1 90.0,150.5 62.8,151.6 83.3,130.4 69.3,129.0 85.4,138.7 56.4,136.8 89.5,149.6 75.9,151.9 80.0,140.9 71.2,145.3 46.4,137.4 86.9,156.2 104.0,147.1 65.1,137.3 80.8,149.9 99.9,154.7 56.2,133.6 61.6,138.9 30.0,144.3 94.7,136.1 86.2,150.9 75.0,146.8 45.2,148.5 62.7,140.1 97.3,146.6 53.5,149.3 38.1,130.9 94.6,143.4 85.9,132.3 64.2,137.4 89.6,147.4 55.1,139.3 42.1,134.2 79.5,140.8 36.1,136.8 54.3,140.5 103.3,152.6 57.6,138.0 45.6,132.4 66.7,150.2 34.9,145.4 38.8,146.9 51.3,150.3 87.7,141.9 58.0,129.7 44.4,148.0 100.7,160.0 56.0,147.3 78.2,137.2 63.7,141.5 70.3,129.8 63.2,135.8 36.7,144.5 83.6,143.8 66.3,152.1 69.5,151.4 52.4,141.2 55.0,135.0 84.8,156.3 46.6,146.5 62.3,130.2 82.7,144.0 104.1,159.1 97.0,134.7 92.7,143.0 84.4,132.2 81.8,144.6 59.7,136.1 43.7,142.0 47.0,131.1 94.8,142.7 65.5,153.5 80.8,130.0 100.2,158.6 92.6,135.8 91.2,149.4 29.3,140.2 80.7,143.0 99.4,153.1 33.6,143.7 60.6,130.2 44.7,132.7 85.2,146.8 47.7,142.1 96.7,152.9 56.1,149.3 55.3,151.3 32.9,134.3 72.6,149.0 48.5,146.2 51.5,148.3 34.8,147.2 41.9,144.0 42.5,142.2 48.1,147.5 88.1,154.7 102.4,142.4 68.0,139.1 48.5,143.0 83.2,135.7 74.7,135.8 81.5,144.9 48.9,140.4 57.5,152.4 60.3,147.3 75.7,127.0 70.1,151.4 87.5,150.5 77.2,130.3 61.6,143.0 33.0,146.7 45.3,131.5 101.5,145.2 82.7,147.4 30.2,139.5 40.4,146.8 43.4,134.2 99.4,154.9 60.7,138.2 85.4,132.1 81.1,135.0 96.4,157.9 98.7,157.2 69.7,134.7 79.7,139.2 82.6,135.8 57.2,149.8 53.3,133.4 31.8,137.1 75.1,130.4 43.6,132.4 103.4,136.2 97.2,148.3 65.0,143.9 39.4,146.4 85.0,147.7 102.2,145.2 84.2,148.2 95.6,135.6 46.7,139.8 92.9,149.3 64.8,124.7 87.3,139.2 46.6,141.4 78.5,131.4 35.9,132.6 45.6,147.6 62.2,133.4 33.2,144.8 52.3,144.0 32.2,139.8 65.4,128.1 71.1,134.5 74.6,128.3 66.5,131.7 49.7,131.3 79.2,155.6 59.3,143.5 81.7,129.8 81.2,131.5 63.8,132.6 63.4,146.3 84.1,137.8 31.7,142.7 96.9,146.8 74.6,152.9 99.9,152.0 46.2,150.9 87.9,142.2 31.7,139.1 46.8,140.2 75.9,146.8 72.9,127.4 96.0,150.9 95.0,147.5 86.5,147.6 54.9,132.7 89.3,132.5 40.9,133.7 84.3,135.2 96.0,140.4 37.7,139.6 28.0,139.0 55.0,129.6 93.4,140.2 90.3,150.3 69.2,143.8 81.7,146.8 96.2,153.3 46.6,139.2 47.5,150.3 95.7,158.8 79.2,155.5 72.1,145.9 38.6,145.2 103.8,160.7 30.2,137.3 41.9,139.6 73.3,138.8 78.4,136.5 100.6,149.4 97.7,150.9 57.3,131.9 94.5,148.7 54.1,127.2 77.3,129.0 83.6,148.7 74.1,132.9 89.9,157.7 66.5,131.5 32.4,135.0 44.4,147.0 85.6,136.4 86.2,150.6 101.0,151.5 73.8,146.3 71.8,133.2 86.8,143.6 87.5,157.5 53.7,147.7 47.8,141.4 84.4,153.4 35.3,132.4 80.0,151.5 88.7,135.2 67.1,124.9 51.1,147.2 43.7,140.0 81.0,135.3 78.9,139.2 75.9,149.7 93.0,148.9 67.0,131.8 35.3,141.2 48.5,145.5 89.1,137.2 95.9,151.1 41.5,146.4 41.3,132.6 87.0,156.5 54.4,139.2 79.1,142.5 50.8,129.4 44.5,144.6 44.3,142.3 65.1,135.4 32.4,140.9 72.1,138.3 96.5,153.6 64.7,140.9 93.4,146.9 67.2,145.7 95.3,139.2 35.8,132.4 44.1,132.2 103.2,145.8 88.9,143.6 65.9,134.4 95.8,140.3 56.5,152.4 63.1,140.7 87.5,141.4 42.8,143.3 52.4,136.5 85.7,137.6 75.5,136.4 84.0,151.6 73.1,131.9 88.1,147.6 78.3,131.1 56.5,150.5 83.0,155.1 99.0,133.2 45.9,127.6 50.0,131.3 103.3,146.9 60.2,129.5 97.5,133.2 85.5,131.5 47.0,130.8 67.9,137.4 69.6,148.5 41.9,128.9 65.6,139.8 60.8,141.2 82.8,147.3 79.2,147.7 65.7,133.9 95.6,146.2 64.4,137.6 38.1,147.7 45.2,137.3 49.6,140.6 75.7,139.3 93.6,139.7 85.8,141.0 75.1,150.8 67.5,153.6 100.2,152.5 61.5,141.9 38.0,133.0 49.6,138.6 57.7,143.4 30.8,138.2 66.7,127.8 93.3,145.1 52.0,131.6 85.1,147.2 63.5,128.2 71.7,147.3 50.3,140.1 63.4,128.7 63.7,132.2 54.8,144.7 99.5,144.5 104.1,143.2 99.9,151.0 56.3,128.6 78.3,137.2 38.5,149.5 102.9,148.1 42.3,134.4 42.0,134.4 36.9,131.6 46.7,141.6 44.7,149.2 46.6,135.1 58.0,131.3 32.1,143.7 95.1,147.2 51.8,140.9 58.8,138.8 38.5,132.1 53.5,131.3 73.7,131.3 67.4,150.5 64.5,152.3 86.5,143.3 78.4,140.0 50.4,130.5 92.9,135.3 44.2,147.4 97.7,145.2 93.1,157.9 82.4,136.2 98.4,145.1 47.0,131.5 100.2,136.8 89.8,154.8 53.4,132.3 41.0,145.4 95.6,148.5 86.9,154.4 62.0,149.8 82.1,141.5 66.4,153.8 56.4,150.3 44.0,141.5 71.2,153.8 51.8,130.0 71.6,147.2 60.3,137.8 50.0,134.9 91.0,139.9 82.9,143.6 112.8,155.6 103.2,142.3 112.6,154.9 129.0,161.6 109.6,145.3 114.2,148.2 107.1,154.8 105.2,148.4 104.9,141.3 107.1,150.7 121.9,148.8 104.1,140.8 123.2,161.9 118.2,155.2 106.3,143.7 122.4,148.3 124.3,160.4 127.1,161.1 130.7,156.3 124.4,167.7 128.5,159.6 101.5,142.7 109.6,159.1 105.9,143.4 106.6,154.6 125.3,166.0 101.6,149.1 107.5,150.8 112.9,155.5 108.9,160.0 116.8,160.0 105.9,152.3 120.8,164.7 116.7,156.9 103.1,146.2 106.5,145.9 128.4,162.7 114.8,155.9 102.2,140.9 105.7,144.6 106.5,154.8 105.2,155.6 107.1,147.7 102.8,150.7 108.6,145.2 109.2,145.7 113.7,147.9 127.2,161.7 102.8,142.4 134.5,166.9 116.2,162.1 123.2,155.9 113.2,157.5 103.3,154.1 101.7,139.9 110.9,155.1 134.7,168.9 110.3,162.3 112.0,160.3 119.2,146.6 113.9,150.3 123.8,157.6 120.4,163.3 128.4,168.9 120.0,154.1 129.7,160.2 103.8,156.3 109.3,144.1 116.2,144.7 128.6,166.5 114.0,157.3 117.6,148.5 118.1,159.0 111.7,150.8 106.7,158.6 112.4,153.5 115.5,154.6 113.6,147.3 103.6,156.4 108.9,142.3 117.4,162.1 102.9,157.4 128.6,167.8 115.9,145.1 127.3,157.1 111.5,145.8 109.5,143.9 103.6,150.3 103.1,139.6 120.7,158.2 107.3,143.2 116.2,152.1 114.3,158.8 112.6,141.0 98.1,141.7 121.8,151.1 134.2,162.4 135.2,163.3 100.2,145.4 100.9,157.9 118.6,156.3 126.6,159.0 108.3,145.2 116.9,155.8 100.7,152.6 124.1,162.7 108.8,150.1 119.6,163.7 107.5,145.9 114.0,156.2 112.3,149.9 114.7,157.8 106.0,145.8 108.6,140.2 113.2,149.9 125.6,163.3 105.1,150.9 128.5,166.1 117.6,150.0 128.5,158.9 120.7,165.3 102.5,149.1 99.5,147.3 118.6,160.6 119.6,163.3 116.6,152.1 105.5,143.6 105.3,162.2 104.0,142.4 134.4,166.4 109.2,144.7 111.4,154.1 130.1,161.1 130.6,167.0 123.2,160.8 101.8,142.8 131.2,159.7 108.6,158.3 115.1,163.1 111.9,149.3 127.2,158.5 111.0,157.4 109.8,156.8 102.7,147.0 111.4,146.6 108.0,153.9 136.0,165.8 126.3,161.0 110.2,162.5 103.8,152.9 101.1,143.5 119.1,158.6 118.3,151.8 100.5,140.6 109.3,151.7 114.9,144.2 112.4,162.1 119.1,155.5 144.3,142.1 153.5,141.1 160.2,175.0 124.6,156.2 130.4,137.5 141.2,126.4 108.9,147.1 142.5,168.0 141.2,167.0 147.7,149.0 124.5,158.7 129.2,162.6 122.2,153.5 110.6,140.6 104.3,141.4 115.8,163.0 104.7,132.2 154.1,160.1 142.3,168.8 101.8,134.4 104.8,143.3 168.3,162.3 102.8,134.8 117.7,134.3 120.8,135.6 121.8,156.5 137.7,160.3 122.3,120.8 139.0,143.6 110.6,146.4 168.8,157.4 135.9,165.2 163.1,169.6 168.2,158.9 99.3,146.1 106.4,136.3 100.5,141.5 155.9,138.5 139.3,171.2 142.8,167.5 109.5,155.7 135.6,161.2 149.3,166.2 130.9,137.9 157.1,146.0 154.6,170.6 133.2,145.6 175.7,147.5 166.7,155.7 183.4,157.1 176.4,160.5 186.2,169.4 189.6,181.8 175.5,176.2 192.9,167.8 178.6,158.7 179.7,169.9 188.6,170.0 190.4,153.9 45.9,110.4 42.7,117.7 37.6,113.7 44.0,103.8 53.8,111.8 39.2,104.7 57.3,110.2 55.7,115.9 53.3,106.3 44.9,113.7 97.6,102.0 146.5,154.6 120.2,129.8 119.7,131.4 113.0,124.3 148.4,138.0 137.4,136.8 89.0,138.4 124.2,113.1 150.8,133.6 100.5,139.0 76.7,111.0 120.5,114.3 121.3,137.0 124.5,155.7 113.5,130.8 96.6,139.1 134.2,154.3 115.5,138.6 127.1,111.6 117.1,163.1 142.1,123.6 96.2,132.2 148.8,161.9 97.1,112.2 139.8,156.7 104.4,130.8 132.5,115.1 122.6,161.2 99.9,115.9 137.1,143.5 96.4,97.8 133.9,125.4 129.3,151.1 115.9,134.1 142.8,123.5 81.5,132.6 140.4,155.4 135.1,150.7 118.2,114.9 146.0,160.4 133.2,150.7 139.6,165.7 151.8,158.9 70.8,113.4 93.5,86.2 130.4,95.4 69.2,85.0 68.7,86.2 161.0,120.0 166.5,126.3"/></defs>
<use href="#paN1" marker-start="url(#aoN1)" marker-mid="url(#aoN1)" marker-end="url(#aoN1)"/>
<use href="#paN1" marker-start="url(#aiN1)" marker-mid="url(#aiN1)" marker-end="url(#aiN1)"/>
</g>
<rect x="24" y="4.5" width="2" height="230" fill="#7f7f7f"/>
<rect x="24" y="233" width="325" height="1.6" fill="#777"/>
<!-- legend A -->
<rect x="267.5" y="10.5" width="73" height="95.5" fill="#fff" stroke="#555" stroke-width="1"/>
<g filter="url(#bl)"><path d="M281.8 20.5L284.9 17.8L288.0 20.5L284.9 23.2Z" fill="#1a74dc"/>
<path d="M281.8 39.3L284.9 36.6L288.0 39.3L284.9 42.0Z" fill="#8a3c1c"/>
<path d="M281.8 58.1L284.9 55.4L288.0 58.1L284.9 60.8Z" fill="#e01c1c"/>
<path d="M281.8 76.9L284.9 74.2L288.0 76.9L284.9 79.6Z" fill="#e01ce0"/>
<path d="M281.8 95.7L284.9 93.0L288.0 95.7L284.9 98.4Z" fill="#f2f020"/></g>
<!-- panel B frame -->
<rect x="386" y="4" width="320" height="3" fill="#d2d2d2"/>
<rect x="703" y="4" width="3" height="233.3" fill="#d2d2d2"/>
<rect x="386" y="235.3" width="320" height="2" fill="#d6d6d6"/>
<rect x="386" y="4" width="2.5" height="233.3" fill="#d0d0d0"/>
<rect x="388.5" y="6" width="1.8" height="229.5" fill="#ababab"/>
<g fill="none" stroke="none" stroke-linecap="butt" filter="url(#bl)">
<defs><polyline id="pbW" points="403.1,156.0 416.0,178.4 421.8,189.5 422.2,201.0 431.5,210.6 442.0,205.4 455.7,213.7 436.7,185.4 436.7,192.3 442.0,191.6 447.0,187.0 441.2,168.0 440.2,154.2 441.9,147.3 443.6,137.0 436.7,131.7 422.5,190.0 441.5,206.0 437.0,186.0 443.0,191.5 441.0,168.5 446.0,158.6 450.8,164.8 457.0,164.0 458.5,196.0 472.3,200.0 484.6,200.8 493.2,204.8 506.0,194.6 470.0,105.3 476.4,101.8 475.0,110.0 553.0,87.0 507.0,194.0 537.3,194.6 528.4,198.6 475.7,172.1 520.4,179.8 552.7,162.5 445.9,170.6 478.6,167.9 452.5,152.5 466.5,171.9 498.8,170.4 518.4,145.9 467.4,165.8 476.4,158.5 512.3,157.5 461.9,142.8 473.7,177.5 521.6,131.3 529.7,139.2 524.8,132.5 477.7,138.0 532.8,178.8 499.4,156.5 471.2,162.6 438.8,173.7 547.5,146.0 491.0,155.3 483.1,193.4 462.1,158.4 521.9,175.4 473.8,125.7 517.4,122.8 542.4,179.2 497.3,188.6 527.7,172.2 518.8,169.5 547.5,143.7 475.6,188.9 484.3,179.0 464.3,158.4 521.0,174.4 518.0,119.1 542.2,163.0 515.5,129.3 531.6,180.3 465.2,194.6 483.7,190.1 460.1,150.4 483.2,147.9 448.0,193.9 512.1,150.2 470.2,144.1 545.1,146.5 494.7,187.0 478.4,184.6 440.0,174.7 445.0,135.4 448.2,186.3 538.6,180.0 498.3,125.5 506.1,191.2 523.2,167.0 516.6,174.6 473.3,128.5 473.8,128.1 496.0,142.1 463.4,168.0 488.6,110.3 483.2,131.4 529.9,129.1 511.0,180.2 491.3,106.3 493.7,117.7 462.0,196.3 462.8,193.3 441.8,184.7 469.4,145.3 518.0,134.1 494.1,166.6 468.3,120.3 513.2,168.8 534.3,164.5 455.1,148.8 449.9,183.5 508.9,187.3 512.1,144.2 520.3,142.1 497.6,160.8 526.4,129.4 524.6,165.6 521.0,125.4 500.3,120.5 511.6,172.5 486.9,156.9 508.2,160.2 514.8,140.6 439.2,166.4 467.2,165.6 517.5,182.9 442.1,145.4 478.9,136.8 476.1,181.2 491.1,162.1 446.2,156.7 507.2,123.4 477.4,138.0 496.2,113.5 487.8,141.9 511.2,142.0 465.8,189.1 512.4,152.0 488.1,189.0 526.5,142.6 472.3,146.6 437.7,148.7 452.4,172.7 471.1,139.7 465.4,130.7 466.0,187.7 490.1,156.9 468.2,192.5 507.8,124.2 461.3,146.3 547.6,178.9 530.9,160.3 464.4,168.2 506.5,132.3 444.4,151.1 542.6,140.8 506.8,113.5 471.3,168.4 528.2,150.5 469.0,125.3 531.7,171.7 466.7,169.4 495.9,165.2 485.0,163.5 503.4,143.3 481.7,122.8 516.8,182.4 469.8,157.9 482.6,117.4 526.5,127.4 468.0,157.8 458.6,168.0 493.7,131.5 520.9,161.5 531.0,166.6 508.9,113.4 474.9,148.4 498.9,129.5 497.9,140.0 467.5,149.2 476.0,194.0 491.2,121.8 526.9,118.4 517.8,186.0 542.6,153.1 529.4,182.4 529.9,167.4 538.0,183.5 480.3,144.5 480.8,200.7 526.8,172.2 484.5,126.7 468.6,172.8 490.2,131.8 457.8,178.4 496.7,120.1 491.6,117.7 540.3,163.8 492.1,148.7 433.8,185.1 498.8,183.6 550.5,170.0 534.4,137.0 490.0,123.6 521.0,160.5 477.2,129.3 493.3,134.5 494.8,167.9 482.5,163.4 486.2,155.5 492.9,189.9 550.7,161.1 520.6,135.3 450.1,133.3 448.6,183.1 545.6,170.6 527.4,165.7 453.4,146.4 503.3,168.3 448.4,130.1 493.6,189.8 457.9,144.0 520.2,180.4 497.3,119.5 511.6,148.5 536.1,133.5 451.5,163.8 496.4,188.1 461.2,147.5 534.9,169.4 530.8,129.1 505.1,153.3 505.9,143.5 507.1,151.2 480.5,185.3 518.6,130.2 487.8,137.5 510.4,122.5 551.7,127.6 488.4,176.6 509.5,151.7 503.7,144.0 540.0,113.2 510.5,136.2 501.5,147.0 476.0,162.2 513.5,151.4 499.3,157.5 501.8,157.2 534.9,146.5 481.7,154.0 494.9,173.4 507.8,130.4 484.0,168.7 490.8,155.7 501.5,146.0 500.0,148.3 535.2,128.0 519.1,149.0 492.3,136.8 493.4,157.0 514.2,156.9 515.2,145.5 509.1,148.6 511.0,153.4 495.5,162.5 537.9,136.9 515.0,129.8 505.6,129.1 526.6,141.6 531.5,153.5 497.0,159.0 543.5,163.7 507.8,152.8 498.3,156.4 523.6,159.6 505.5,147.5 516.8,141.6 539.6,110.5 474.9,148.8 521.0,142.8 511.3,126.7 520.8,149.3 540.9,147.3 494.5,140.7 485.7,146.1 510.1,160.8 539.0,138.7 518.7,141.2 485.8,158.5 489.7,131.3 497.2,167.1 490.9,167.3 482.6,152.0 516.3,139.0 490.2,150.9 541.1,145.2 513.6,151.6 534.1,155.2 500.5,137.4 490.1,151.6 502.6,147.6 504.3,177.4 499.6,165.7 489.8,141.4 483.1,139.5 475.3,144.8 505.8,155.1 476.4,159.9 506.0,146.6 469.5,162.2 524.0,155.7 506.5,161.5 506.7,135.3 520.8,154.5 512.4,144.5 505.6,154.9 475.5,158.4 482.6,146.6 515.7,159.1 505.1,135.6 559.7,136.1 457.6,158.4 492.6,142.8 534.2,165.0 505.9,130.3 524.6,142.8 501.1,150.4 487.2,154.0 518.4,157.8 543.6,128.9 512.8,135.2 513.9,158.5 519.3,139.5 544.4,147.2 531.3,140.8 532.6,137.7 524.6,142.2 503.4,128.5 528.2,147.7 496.7,149.9 521.3,150.3 474.0,173.3 494.8,172.8 530.0,141.9 512.9,148.2 505.1,165.3 493.9,143.4 499.0,129.2 524.0,127.4 539.4,149.2 544.2,129.2 501.1,142.5 520.4,131.9 495.1,121.4 509.6,148.2 543.0,126.5 528.1,147.7 521.4,129.1 441.2,158.1 526.9,143.1 542.0,163.4 493.8,144.9 531.9,119.3 461.7,161.8 519.0,161.6 521.9,141.9 491.8,128.0 516.2,136.4 501.9,151.7 469.3,155.4 502.5,172.0 509.4,159.6 484.6,133.0 523.9,137.6 486.0,165.1 512.5,123.8 509.9,170.1 506.1,129.9 496.6,166.3 538.9,146.3 482.1,163.3 491.0,144.4 502.0,161.0 519.7,150.1 498.2,142.4 526.8,133.5 504.6,153.9 507.9,158.3 520.9,150.6 550.6,128.0 544.2,120.5 485.5,121.2 492.9,140.2 525.6,157.0 550.9,128.0 528.0,138.4 460.0,107.2 495.4,125.3 521.9,130.7 518.6,134.9 514.5,132.5 521.5,165.1 511.1,128.2 493.6,151.6 519.8,127.5 485.7,131.8 542.8,140.4 513.1,139.2 546.8,142.9 510.1,160.8 518.6,139.7 501.2,148.0 530.3,122.3 478.5,162.5 533.0,157.6 514.5,125.5 524.4,143.8 483.8,132.5 478.8,154.7 484.6,156.8 507.2,154.3 522.0,130.8 503.3,156.6 499.1,161.2 522.4,153.5 499.2,158.3 504.8,149.7 518.5,136.2 499.8,118.3 496.9,156.8 480.8,126.7 479.8,149.8 522.7,148.8 482.3,158.0 488.2,165.1 513.7,136.5 499.0,147.5 500.8,162.7 512.2,137.7 512.5,127.4 510.1,141.3 497.1,148.2 507.9,127.6 524.5,178.9 521.4,134.9 520.2,163.7 492.9,171.0 507.4,170.1 495.7,162.5 516.6,149.8 514.2,147.4 539.4,142.8 537.9,140.1 509.4,145.0 513.8,151.0 518.4,159.3 537.2,144.0 535.6,152.8 544.2,148.9 520.8,168.6 540.0,149.1 534.0,139.0 532.1,148.9 536.3,167.3 517.7,148.1 531.0,168.8 518.6,144.8 523.8,125.6 516.2,147.0 518.2,137.5 511.4,139.7 527.2,147.9 515.6,157.2 526.2,138.9 539.0,154.8 529.8,148.4 539.4,148.1 519.5,151.8 536.9,166.5 530.7,162.9 508.2,135.9 516.2,139.5 520.5,136.0 530.3,168.1 519.4,160.2 524.4,128.6 525.0,127.2 512.9,129.1 522.7,165.2 525.4,141.1 519.1,141.2 508.3,132.3 524.7,141.4 540.4,151.6 521.2,145.7 513.1,133.5 518.2,143.2 532.9,144.0 512.3,131.7 520.4,146.9 527.3,151.7 523.3,131.2 524.6,148.6 503.6,127.8 521.9,158.7 513.9,154.2 540.6,146.6 514.7,128.4 517.9,159.9 535.3,143.2 518.5,153.9 528.0,144.0 520.0,173.9 545.0,173.5 508.2,146.3 530.6,147.8 517.6,123.9 533.3,142.8 516.5,158.8 532.9,136.0 506.1,138.3 544.1,156.4 515.9,133.4 535.1,160.1 516.6,137.1 521.1,159.0 528.6,163.4 523.7,127.6 529.0,140.2"/></defs>
<use href="#pbW" marker-start="url(#boW)" marker-mid="url(#boW)" marker-end="url(#boW)"/>
<use href="#pbW" marker-start="url(#biW)" marker-mid="url(#biW)" marker-end="url(#biW)"/>
<defs><polyline id="pbN2" points="571.3,162.6 577.3,147.7 600.8,116.7 605.5,115.4 582.0,146.2 587.9,138.0 592.7,96.9 581.9,161.0 570.9,141.7 600.3,107.0 573.1,144.4 567.2,152.8 583.8,161.5 568.2,160.2 576.6,163.7 578.2,135.7 585.9,144.4 591.3,146.7 578.0,145.8 577.9,115.9 575.6,127.5 562.1,148.0 567.1,137.6 601.2,106.5 571.3,150.1 585.6,128.8 601.3,129.9 572.0,142.3 581.6,153.6 598.8,112.7 569.1,157.0 570.5,145.7 593.1,146.7 605.2,125.6 575.3,132.1 576.2,146.6 589.5,138.8 592.5,106.8 577.2,131.7 574.7,168.5 578.4,167.7 585.6,127.3 603.3,114.4 606.0,100.6 587.2,115.0 569.1,156.7 572.6,164.7 577.8,130.7 585.2,124.9 592.6,127.7 575.6,134.9 596.4,111.6 575.2,150.2 592.9,118.1 573.0,146.6 578.7,158.1 611.6,109.6 597.2,113.0 589.1,125.0 586.9,115.7 567.0,141.0 560.3,144.9 584.3,124.6 583.1,152.5 567.2,146.4 569.3,150.4 595.1,119.5 572.6,156.6 603.7,100.6 568.0,141.3 603.6,116.0 571.2,134.8 581.4,154.8 565.6,160.4 589.9,124.4 578.7,156.4 606.3,123.9 607.4,118.7 606.0,103.7 584.7,138.3 586.2,141.4 596.6,111.7 580.1,150.2 573.9,152.6 588.9,138.0 599.6,130.4 582.8,144.9 566.0,162.4 612.9,107.6 590.7,148.2 573.4,157.4 585.4,127.2 581.0,134.1 575.7,173.8 591.2,119.9 587.2,145.1 582.8,158.7 569.8,153.2 600.0,109.0 575.6,162.6 570.8,126.1 596.3,135.1 592.4,101.8 601.3,118.6 586.6,124.8 585.8,137.6 564.1,166.3 573.2,132.4 587.9,130.8 581.8,118.4 576.6,163.9 594.9,107.3 598.3,132.6 586.3,147.4 571.8,158.0 585.0,118.0 556.4,155.7 605.7,123.3 578.3,165.4 570.1,150.8 609.5,119.0 601.9,119.8 562.3,145.1 573.8,125.4 604.2,106.8 568.9,141.4 568.0,145.1 590.5,98.5 573.2,152.5 576.9,162.3 582.4,122.6 566.3,163.2 577.4,129.6 591.3,143.5 574.2,143.2 610.0,106.7 577.2,155.4 572.7,167.0 601.6,108.9 602.2,114.2 599.8,103.9 605.3,120.7 597.8,103.4 586.8,129.0 590.9,140.8 605.4,134.0 564.2,167.5 600.1,109.5 583.7,139.8 579.3,149.2 578.7,154.7 590.8,127.7 592.3,105.5 569.4,144.2 589.0,131.2 592.9,119.0 590.3,138.2 581.3,133.4 573.3,140.7 584.2,149.0 560.5,166.0 561.5,148.4 570.3,153.7 563.7,149.3 569.8,157.0 593.1,125.0 585.9,109.2 586.6,102.5 593.0,104.8 584.7,136.4 587.6,117.9 566.1,167.2 588.4,143.7 558.8,157.6 571.2,142.5 605.5,105.2 581.6,142.0 601.0,123.6 562.1,144.8 584.2,136.1 580.7,145.5 590.1,153.3 592.7,97.6 605.0,120.5 569.8,133.8 584.3,106.7 563.9,142.9 586.3,111.9 606.6,105.1 604.1,97.8 608.9,117.3 590.4,148.5 577.8,122.1 593.2,101.6 587.9,124.9 594.3,120.0 584.1,108.0 586.4,136.3 590.2,103.9 577.5,160.9 585.1,103.7 565.4,152.5 571.8,138.9 580.8,142.2 580.5,117.8 576.3,159.3 599.7,124.2 597.4,120.7 616.2,106.3 600.3,104.2 588.7,103.0 583.4,160.1 581.5,147.5 586.1,107.8 585.6,137.3 591.8,124.5 576.1,147.3 565.9,154.6 574.3,144.8 577.9,117.2 603.2,103.2 589.3,114.3 573.6,134.0 602.6,123.3 596.8,138.3 581.3,135.0 589.4,135.2 604.5,116.0 557.9,156.3 598.6,104.0 562.2,157.4 597.1,139.7 584.4,119.0 598.9,107.1 582.5,131.2 601.6,102.4 596.9,125.8 594.7,122.5 572.6,149.4 602.0,127.4 579.3,127.1 603.5,116.9 582.0,121.4 569.2,157.7 593.5,137.7 591.3,115.0 598.5,136.8 588.9,98.1 591.4,120.2 577.1,133.8 588.5,120.3 576.7,139.3 595.7,102.4 579.9,142.7 588.0,117.7 591.9,124.0 575.7,132.2 561.0,154.0 570.4,163.9 573.1,134.7 597.7,140.2 585.5,125.2 577.5,128.8 570.0,145.9 562.1,155.8 581.3,158.1 574.3,152.2 605.7,119.9 617.7,109.0 582.1,142.5 594.0,104.2 588.1,111.2 572.1,166.2 571.8,139.0 582.6,143.9 585.5,110.5 588.6,126.6 612.8,104.8 583.0,116.9 585.5,136.3 590.8,146.2 609.6,119.2 569.1,151.4 575.6,166.7 594.2,97.4 562.2,164.1 591.8,152.2 613.3,108.4 576.7,132.6 591.4,136.4 597.6,101.8 605.0,101.7 576.2,162.9 583.3,163.3 575.7,143.5 606.8,109.4 598.9,116.9 611.0,118.7 581.1,157.4 579.0,138.6 579.2,158.5 557.3,156.2 601.6,128.8 567.9,159.3 590.9,108.8 591.4,143.0 588.2,109.8 591.0,119.4 577.6,132.4 569.3,167.0 609.9,106.5 569.4,163.9 585.8,150.4 609.1,108.0 558.3,159.5 590.1,102.1 588.8,135.7 581.3,157.8 601.5,102.0 583.2,125.1 576.4,136.4 589.5,153.1 572.0,137.7 580.3,119.8 590.6,141.1 571.8,142.7 578.2,165.5 593.5,135.2 589.0,103.4 587.9,129.2 593.3,132.3 579.1,167.7 588.2,108.0 574.4,150.8 597.8,118.4 596.1,140.3 574.0,153.0 612.9,101.4 589.9,101.2 601.0,101.1 581.8,157.3 595.8,130.6 583.4,129.7 575.2,121.2 582.3,141.9 594.4,138.1 585.5,137.5 576.3,167.6 573.6,132.9 574.1,142.2 573.3,129.1 585.2,145.2 600.8,100.8 594.1,107.5 600.6,116.6 590.1,114.9 587.2,126.4 601.8,114.9 582.1,134.9 574.4,125.5 574.6,148.8 589.8,144.3 609.7,105.8 585.7,161.2 583.6,127.8 583.3,149.4 596.9,103.1 598.6,108.8 611.2,108.4 602.5,123.9 601.6,124.0 583.0,147.7 560.7,147.5 593.3,138.2 582.8,119.7 587.7,103.7 572.9,162.3 594.1,98.8 578.5,155.5 561.5,148.2 608.2,123.1 603.9,122.0 604.9,117.9 585.1,144.0 577.2,130.3 601.0,106.1 587.4,141.2 592.7,103.0 584.0,119.9 563.2,156.7 600.3,134.1 596.0,135.8 598.8,100.3 595.9,124.3 570.9,155.2 600.3,125.8 562.4,163.8 576.0,136.3 600.2,129.2 574.4,151.9 594.1,146.3 613.0,106.8 557.1,157.5 588.7,108.7 607.0,126.8 567.9,145.3 578.6,156.9 570.7,161.8 561.3,153.9 608.1,105.6 596.8,103.3 561.6,145.5 608.4,115.9 600.0,119.9 577.3,159.0 595.8,125.3 608.3,103.6 566.8,142.1 586.6,147.8 563.5,146.6 583.5,106.8 589.8,121.7 592.0,145.0 560.9,161.6 576.5,157.6 606.6,115.1 591.6,143.3 573.6,135.6 602.8,131.6 577.2,165.9 596.7,106.9 590.8,100.2 583.0,155.6 589.4,134.5 592.0,111.2 559.6,152.2 583.9,155.1 565.6,168.5 589.8,116.2 602.6,113.6 605.0,118.7 589.9,116.3 606.1,104.3 579.1,162.1 571.2,130.8 570.0,148.6 578.2,130.6 580.0,154.4 586.4,124.4 561.0,150.4 577.5,149.7 596.5,136.7 588.5,123.3 579.6,127.7 599.2,97.8 596.5,98.7 602.8,114.4 596.6,99.5 561.0,156.7 579.6,137.8 574.2,143.4 607.6,132.2 576.9,150.1 579.1,122.6 587.2,140.4 594.2,113.1 608.4,99.3 578.9,157.6 582.0,150.8 595.6,143.7 593.0,118.0 575.1,165.1 582.9,115.8 604.9,112.4 575.9,124.8 599.7,118.6 595.5,128.6 604.7,112.1 593.6,137.7 596.1,95.2 583.0,167.2 597.3,136.9 603.1,122.1 596.0,134.5 577.5,153.8 570.6,147.8 605.6,114.8 590.2,124.8 580.7,151.6 606.2,103.3 595.1,99.3 589.9,119.0 570.7,164.7 607.5,115.7 576.6,121.1 554.9,166.5 578.7,134.8 576.8,138.2 590.6,144.3 590.8,125.9 610.6,115.6 623.7,131.6 598.8,154.0 607.2,118.3 612.3,125.3 603.0,139.5 614.2,134.7 599.0,141.7 609.1,147.1 599.9,147.7 593.9,154.9 601.2,153.4 615.2,119.9 609.2,153.1 610.0,108.9 606.9,116.0 609.9,111.0 606.0,127.8 612.4,115.0 601.6,129.2 613.7,119.6 619.4,143.1 618.7,140.6 611.5,145.0 590.7,161.6 606.3,125.9 625.1,139.0 605.3,142.6 623.0,129.3 590.3,160.0 599.8,152.1 603.7,131.4 611.8,120.1 615.2,139.6 606.4,125.3 609.9,145.6 599.5,159.2 603.9,137.3 617.8,117.0 612.5,147.0 605.4,141.9 617.2,139.0 613.8,127.4 610.6,132.9 613.3,135.1 612.9,128.1 610.3,114.4 616.5,118.2 613.2,112.7 617.2,135.0 600.9,151.4 613.9,110.4 617.1,115.6 604.1,132.3 604.4,147.0 597.6,146.2 615.8,135.0 624.6,134.1 601.7,149.2 587.6,151.9 561.5,173.5 565.5,152.7 567.7,156.7 555.0,148.4 559.7,148.3 559.8,155.9 573.6,158.7 562.5,155.1 561.6,167.5 557.0,162.1 553.8,168.3 553.4,175.3 552.2,148.5 547.6,151.0 557.5,173.2 571.1,164.4 561.4,167.4 563.3,174.9 564.0,154.1 565.7,156.0 551.6,149.3 564.2,155.5 557.6,165.5 573.0,173.5 572.4,156.0 562.2,146.0 567.4,148.9 545.3,153.8 558.4,162.4 550.5,157.8 552.6,175.2 599.0,174.5 558.6,178.5 567.0,173.6 561.5,153.1 584.9,161.2 531.1,158.5 544.3,176.2 583.7,165.2 569.0,164.0 539.3,169.4 569.9,189.6 574.2,174.6 583.2,179.5 556.4,145.9 545.5,162.3 582.3,164.6 563.3,154.4 584.5,185.4 572.5,186.0 583.8,169.5 557.1,189.0 550.5,150.2 589.0,173.7 573.1,159.9 542.6,163.4 561.5,165.7 550.7,167.9 537.9,170.4 574.4,173.7 593.0,164.4 545.9,186.6 587.5,190.0 557.9,156.8 540.2,180.6 539.7,177.7 537.9,168.5 569.0,177.7 550.2,174.8 592.4,177.7 560.3,136.4 530.6,125.6 575.5,136.4 583.7,116.3 566.6,131.2 569.0,114.5 544.4,123.0 532.2,130.3 546.2,148.8 568.8,127.8 577.9,118.0 544.5,132.6 524.0,137.0 579.9,106.2 579.5,128.7 572.8,133.0 571.6,119.1 552.1,129.2 554.8,114.6 567.8,138.5 546.9,114.9 589.7,105.4 550.9,126.4 577.3,105.0 554.5,134.9 542.0,128.5 572.2,138.4 571.8,118.2 541.6,118.1 568.5,144.7 529.8,127.8 559.4,124.5 551.6,141.1 554.9,145.8 547.7,120.6 551.0,111.3 576.0,108.3 569.8,130.7 563.3,144.9 578.5,105.2 540.0,140.0 548.6,117.8 538.3,142.0 554.8,123.8 580.2,102.3 576.4,138.9 580.7,127.3 557.0,113.3 557.3,133.5 550.2,147.2 527.4,138.9 552.0,122.2 547.6,125.6 538.5,128.0 588.9,120.4 547.7,133.4 584.4,100.5 583.4,109.0 582.4,117.3 576.2,134.9 565.1,137.3 564.7,130.9 539.8,144.5 566.3,129.7 543.2,131.3 543.4,118.8 587.4,123.9 533.4,133.8 531.3,132.4 553.6,116.8 558.5,148.1 567.8,151.2 528.5,121.9 579.2,101.5 579.1,119.1 563.5,125.9 588.3,124.6 563.6,124.9 538.7,153.6 553.7,115.4 556.2,145.8 535.3,146.6 550.2,113.8 544.7,125.2 546.5,126.3 551.9,128.6 535.2,123.3 579.5,106.2 559.8,115.7 586.2,128.1 576.7,104.5 537.0,120.7 543.9,129.5 555.5,142.6 538.4,144.2 589.6,121.2 556.9,119.3 578.0,139.2 562.8,146.2 540.3,139.5 578.3,120.4 576.2,138.1 564.1,141.5 525.3,124.4 542.5,126.3 578.8,110.6 558.5,135.7 553.1,122.4 574.1,114.1 531.4,134.3 562.8,134.6 573.7,137.1 567.4,122.3 539.9,143.4 576.8,110.2 589.3,115.1 556.9,117.8 570.4,114.0 544.1,116.4 544.7,149.1 584.7,126.6 556.1,132.9 555.4,124.0 570.2,126.5 578.2,128.3 544.4,128.1 561.9,112.8 548.6,137.6 593.4,105.6 526.0,134.0 578.9,137.5 545.3,137.4 527.9,124.5 543.9,148.3 538.1,134.3 559.4,123.0 582.0,119.8 563.9,132.5 540.9,122.1 543.0,124.2 537.9,123.4 577.1,124.8 572.2,125.6 559.8,143.1 572.7,106.3 557.6,147.2 572.1,101.8 549.5,112.3 584.0,127.5 580.3,131.7 570.0,133.6 584.5,104.3 565.3,146.8 541.4,135.0 574.9,122.0 560.1,112.7 530.5,122.0 549.1,131.2 556.4,116.4 548.4,128.3 554.0,149.8 541.9,123.4 589.8,92.4 590.8,111.5 554.1,115.0 542.9,121.1 564.1,128.4 526.8,133.7 544.0,147.8 574.9,140.9 532.7,130.6 588.6,98.8 570.3,107.8 552.1,137.5 566.5,146.1 576.3,128.3 561.5,131.4 542.5,133.8 530.8,144.2 570.6,133.4 553.4,127.7 554.2,131.7 550.0,140.7 525.9,141.7 575.2,106.6 571.8,106.1 578.9,119.2 584.7,125.2 532.0,137.6 548.1,125.5 558.5,144.4 548.3,121.3 586.8,122.6 545.6,124.7 529.6,123.5 552.9,124.1 584.1,135.0 567.0,113.1 526.6,125.5 532.2,123.3 528.0,186.0 551.0,188.0 559.0,185.0 583.6,185.0 589.8,179.8 583.4,185.1 589.7,178.9 596.6,172.0 583.9,168.5"/></defs>
<use href="#pbN2" marker-start="url(#boN2)" marker-mid="url(#boN2)" marker-end="url(#boN2)"/>
<use href="#pbN2" marker-start="url(#biN2)" marker-mid="url(#biN2)" marker-end="url(#biN2)"/>
<defs><polyline id="pbN3" points="657.9,46.8 627.0,90.6 618.1,70.6 619.5,93.6 633.1,65.2 611.2,103.8 643.7,53.6 642.0,77.8 620.1,99.5 591.4,76.1 588.4,89.6 618.7,76.0 600.6,83.7 657.4,44.2 618.7,96.4 640.4,57.4 609.8,77.8 632.3,62.6 600.6,98.8 641.7,71.6 596.5,86.4 627.2,61.5 605.7,100.2 635.5,60.4 630.7,80.2 613.2,103.6 649.2,57.4 612.1,63.8 595.0,85.0 651.5,56.0 613.7,94.1 642.7,61.7 623.3,74.2 631.8,77.7 598.2,81.3 594.9,80.7 605.7,102.5 610.9,105.8 597.6,80.2 592.7,93.5 639.6,58.4 651.5,55.4 590.4,89.1 605.4,92.7 653.6,51.3 611.8,87.9 668.5,27.1 627.0,72.8 647.9,57.0 591.2,80.7 622.6,87.5 636.0,64.9 640.6,52.9 604.6,102.3 632.2,83.3 637.0,75.2 625.2,86.3 607.7,105.0 619.0,72.4 618.2,73.3 626.7,74.3 586.7,83.4 609.2,93.8 603.1,96.5 618.6,92.6 604.5,96.0 641.6,50.6 600.7,91.0 630.9,66.4 643.7,58.5 606.2,89.5 606.0,84.2 633.0,78.5 617.2,86.9 644.6,55.5 653.9,39.5 645.7,43.6 594.5,98.7 625.1,67.1 589.0,90.9 616.2,80.3 624.0,86.6 599.4,76.4 658.0,38.5 615.2,80.8 611.0,70.3 611.7,79.1 652.9,56.0 609.3,81.0 599.0,77.0 631.6,78.0 636.1,67.8 650.6,52.3 650.2,48.4 634.2,57.7 621.1,90.8 606.2,97.4 623.9,57.4 642.7,54.4 633.0,82.6 637.0,63.8 631.3,63.2 615.5,94.3 650.8,45.9 636.4,59.7 637.6,66.4 626.7,81.5 628.6,74.5 626.5,78.5 626.1,59.8 590.6,82.0 590.9,82.8 609.4,73.5 610.1,92.7 596.6,90.6 645.1,61.0 606.9,88.4 650.5,50.1 636.5,83.8 602.7,74.8 645.5,72.1 612.0,102.1 616.0,89.7 635.2,73.9 600.9,90.4 630.4,54.0 624.1,95.1 637.7,72.3 610.8,95.3 601.8,107.4 585.1,77.3 621.4,95.1 589.0,88.0 649.0,70.8 653.7,46.4 655.2,38.5 628.7,70.9 618.7,90.8 596.1,102.7 639.0,77.7 599.1,100.4 627.1,58.3 598.8,102.0 637.3,51.9 592.9,92.8 608.5,81.4 597.7,87.2 625.9,96.1 594.3,92.5 636.9,73.4 601.9,71.8 600.2,78.8 643.1,62.5 645.8,55.3 604.1,99.8 614.7,72.0 656.2,44.2 625.2,94.5 622.7,88.6 591.0,93.9 617.2,69.3 656.1,43.9 601.7,102.3 611.6,106.1 626.6,79.8 643.1,68.2 623.4,68.1 605.8,85.3 638.7,50.0 614.1,87.9 589.1,90.3 621.1,96.9 607.0,94.7 614.3,96.3 624.6,94.8 602.7,91.4 619.0,81.4 662.9,41.9 632.2,66.1 642.1,74.0 600.6,76.9 640.9,58.7 587.3,78.4 647.2,55.8 612.4,92.2 606.1,108.2 594.5,90.5 601.7,105.4 636.1,77.6 605.4,95.4 588.5,94.6 630.6,54.8 622.5,66.4 629.3,63.4 640.0,57.4 643.7,51.1 651.9,40.9 641.2,74.9 596.1,99.5 646.0,49.9 618.3,76.0 597.6,100.0 639.9,71.5 657.6,46.1 615.0,74.5 615.8,103.0 603.6,94.9 629.2,55.1 632.1,87.4 625.9,90.0 596.5,96.9 642.3,54.1 598.4,78.3 644.4,51.6 624.5,66.4 622.2,71.5 599.5,77.4 618.6,82.8 640.5,57.4 644.3,70.1 617.2,74.0 646.4,64.3 608.3,103.9 641.0,80.7 607.3,72.9 584.5,76.7 646.0,67.8 663.2,34.4 628.8,65.0 629.0,80.8 634.8,73.7 627.5,64.9 614.4,86.2 615.4,74.8 613.9,70.5 635.2,88.9 623.0,84.0 618.4,96.7 606.0,81.5 622.9,89.4 616.7,106.3 643.9,46.7 602.9,88.1 614.3,85.4 658.8,34.8 617.2,96.0 597.7,93.7 622.9,71.1 654.1,43.2 610.7,80.9 651.0,41.8 639.8,52.6 636.0,73.7 588.3,78.8 661.1,44.3 616.6,100.4 625.8,85.3 629.3,65.4 601.9,92.0 604.6,88.9 604.7,79.9 615.0,75.0 629.2,60.1 625.7,89.2 612.5,68.8 623.9,60.7 621.7,97.3 644.2,75.7 621.0,83.5 610.3,73.4 639.4,70.1 602.3,99.5 629.2,77.5 638.2,55.6 606.1,68.5 594.2,79.4 615.7,72.8 609.6,80.1 616.4,85.9 633.7,81.0 644.9,49.6 626.9,53.2 624.6,96.7 598.4,91.4 639.4,84.0 596.7,99.9 661.4,40.6 642.7,61.5 632.5,64.9 605.2,76.7 589.0,80.2 594.8,103.9 597.4,93.0 647.1,54.9 646.9,65.1 628.0,63.2 616.7,97.1 631.6,61.6 654.1,41.7 602.3,82.5 648.3,45.5 625.4,74.7 640.6,74.4 621.0,66.1 634.2,59.7 603.2,103.1 591.6,88.3 649.2,60.6 646.0,48.3 615.3,81.8 626.0,85.9 600.0,80.0 625.9,77.2 604.2,94.4 644.0,73.9 611.8,104.1 632.4,61.7 631.7,73.8 655.9,38.9 612.6,67.3 582.9,83.5 658.2,34.8 650.3,49.2 637.6,55.3 606.6,85.3 608.5,93.7 646.5,60.7 614.1,85.2 614.2,101.5 649.7,44.0 627.0,64.4 630.5,84.6 643.5,60.5 603.4,85.4 646.3,66.1 640.2,67.1 642.8,55.1 622.3,70.2 590.6,87.4 649.0,59.8 604.0,71.7 607.6,78.2 604.1,77.5 615.4,97.8 637.5,53.3 620.7,97.2 627.8,61.1 597.1,95.0 585.6,88.4 629.5,81.0 599.8,99.0 606.0,83.8 633.7,80.2 624.5,82.0 622.5,77.0 648.2,49.7 617.0,63.1 626.7,60.0 600.3,75.9 631.7,87.4 633.0,86.3 612.7,81.1 603.0,83.2 633.2,56.1 650.1,53.8 649.4,46.3 632.5,77.5 587.9,83.2 632.8,63.9 638.3,56.6 615.9,72.9 612.6,86.6 618.5,66.2 667.5,29.5 660.3,46.3 619.0,77.0 645.4,53.2 607.5,96.5 604.5,99.2 606.4,84.4 604.2,99.2 600.7,89.9 618.2,99.9 600.4,77.3 616.6,88.7 602.5,104.8 647.1,54.6 627.4,78.2 632.7,56.9 620.6,93.7 625.8,62.5 602.3,97.7 642.3,57.5 605.9,103.8 628.8,74.8 626.7,60.2 602.0,89.4 609.5,87.6 651.2,43.4 624.5,87.6 629.8,54.6 593.8,92.3 634.9,67.1 620.9,85.6 625.4,65.0 590.7,95.6 607.6,94.4 631.3,60.0 607.8,95.6 647.0,54.9 646.9,56.5 594.9,73.6 646.5,68.8 655.7,49.0 627.8,82.8 646.3,52.2 602.0,84.7 624.7,82.0 646.8,61.0 642.7,63.1 592.2,96.3 612.7,103.3 643.9,60.1 611.9,93.6 619.4,60.4 594.0,80.0 603.3,80.3 637.7,68.3 636.3,73.3 630.6,75.5 633.1,73.8 592.9,75.9 617.5,89.9 590.3,81.1 623.5,95.7 599.9,103.5 661.8,35.9 628.1,55.2 598.9,105.1 628.5,86.4 655.2,40.1 654.1,53.9 636.1,74.3 647.6,56.9 626.6,74.1 643.1,63.2 590.6,91.7 626.1,79.7 640.8,72.7 620.4,73.0 595.5,82.4 583.8,85.8 616.8,66.4 640.3,53.3 625.8,70.5 615.4,67.7 614.7,77.1 597.8,79.1 616.4,90.1 638.4,55.3 611.3,103.2 661.1,39.3 642.4,61.0 634.4,84.5 655.3,51.4 644.7,49.0 660.2,39.1 619.7,63.2 600.6,76.1 655.9,57.0 631.8,72.5 663.1,43.8 650.7,44.4 601.9,87.4 589.4,101.7 602.7,89.1 610.6,77.7 649.5,63.6 627.1,71.8 630.4,74.3 648.7,69.8 631.0,55.8 624.3,69.0 617.0,96.7 643.0,52.3 624.9,80.3 599.9,101.7 610.1,85.8 588.2,94.3 642.6,60.3 653.6,53.5 622.2,86.6 600.6,76.9 587.2,88.8 593.9,91.4 653.5,50.2 643.5,61.5 637.2,62.5 614.4,82.7 613.3,85.7 635.4,64.8 590.6,90.1 607.0,91.9 640.9,78.6 629.5,82.3 615.4,81.6 619.7,62.4 607.6,99.1 609.7,91.8 653.4,45.7 634.0,70.7 592.6,95.3 614.2,82.3 597.0,87.9 632.9,48.9 629.8,76.4 625.3,92.9 616.0,66.5 606.7,103.0 599.1,73.1 619.8,84.1 622.0,78.0 618.0,80.1 610.3,99.6 611.7,85.8 627.9,87.8 642.2,58.1 604.0,86.0 615.1,88.4 627.2,59.3 595.2,96.5 603.1,101.2 606.4,106.9 621.0,66.4 625.8,71.9 639.3,65.9 624.9,71.3 626.2,89.8 594.8,89.3 639.5,84.2 608.5,76.7 660.0,28.9 624.4,75.4 615.5,78.7 611.1,88.5 620.9,82.5 598.0,95.4 663.8,29.1 604.2,95.5 649.0,46.2 652.6,43.7 633.7,80.3 601.7,98.1 608.5,72.3 605.5,80.0 605.0,85.4 623.3,91.0 590.0,86.2 662.0,37.4 608.7,77.9 625.0,80.8 625.1,65.1 631.7,71.4 659.3,45.1 636.2,82.9 621.2,72.7 600.8,96.6 603.8,100.0 631.5,73.6 621.7,84.8 627.8,78.6 643.8,67.1 612.1,103.5 607.0,75.8 626.0,65.9 623.0,76.2 595.5,94.9 654.7,41.6 624.8,63.7 623.1,83.3 596.3,101.9 617.4,66.4 601.3,95.9 640.1,48.9 631.3,86.4 606.3,101.8 606.5,87.1 615.8,66.0 598.7,77.5 631.7,85.6 639.6,76.7 633.7,69.0 654.9,44.5 624.4,72.2 653.7,54.0 615.2,103.8 648.1,60.6 622.3,60.2 632.8,61.7 590.8,91.4 660.3,41.0 622.2,77.8 623.0,84.7 637.3,75.4 660.9,41.9 598.4,77.7 625.6,66.1 605.0,70.7 627.6,82.9 643.2,67.8 626.6,90.9 608.5,71.4 642.5,78.0 635.1,59.5 591.5,90.1 661.6,31.1 586.5,88.3 598.9,92.1 633.1,75.9 603.3,72.1 595.7,83.8 642.2,59.9 621.8,60.9 632.3,76.4 652.8,39.3 646.6,55.4 632.3,70.8 632.2,64.6 648.5,43.9 598.5,88.9 648.7,61.9 650.7,57.6 599.9,79.4 645.6,64.5 604.3,81.6 620.0,86.1 656.8,48.1 595.3,102.2 634.5,82.1 605.5,89.5 637.5,58.5 625.4,59.3 610.1,75.6 600.1,102.9 596.1,100.3 649.7,40.3 609.4,98.6 628.6,78.0 602.0,83.9 615.2,76.6 653.2,49.2 614.4,104.7 607.7,91.9 628.4,88.7 628.8,63.3 591.6,94.6 608.7,70.5 624.1,64.4 616.4,84.3 620.8,99.4 598.4,88.1 659.3,37.2 660.1,29.9 649.8,55.6 627.9,71.6 644.0,68.4 602.7,90.7 633.9,76.8 658.8,37.3 656.1,56.5 616.9,107.0 623.9,75.8 623.6,90.3 637.7,78.0 591.9,78.2 653.0,56.3 641.3,59.3 606.4,102.2 595.2,77.5 663.2,32.8 629.6,69.3 647.8,61.9 595.6,97.3 637.7,81.0 625.1,84.4 638.3,71.1 605.9,98.8 634.7,80.2 593.7,80.9 653.3,48.7 611.3,96.8 621.6,64.9 615.1,93.3 602.7,98.6 663.5,31.5 656.8,46.7 607.2,74.2 597.8,77.0 604.5,75.9 618.9,63.5 587.8,87.6 604.9,100.6 641.7,50.3 592.3,87.2 635.7,71.7 608.6,104.9 642.0,53.1 603.1,74.5 605.5,82.1 632.2,88.4 651.8,59.0 651.4,49.5 629.9,81.3 649.2,47.7 614.8,68.8 624.7,77.5 618.7,94.6 608.1,97.1 616.0,83.8 594.6,85.5 610.3,84.6 620.9,66.8 593.3,97.6 607.9,83.4 591.9,87.5 636.7,72.9 604.2,102.4 601.0,101.0 585.0,86.1 590.6,99.6 596.2,76.0 617.6,77.7 624.1,82.1 647.0,58.1 604.0,82.1 628.8,68.3 622.6,95.0 594.5,93.7 617.7,92.6 604.1,104.3 623.6,68.5 647.4,59.9 606.7,86.9 627.9,92.5 599.5,94.5 621.9,77.9 626.3,85.2 646.3,45.1 622.6,72.1 597.1,89.5 594.4,100.5 640.6,55.3 646.1,46.5 593.7,96.0 644.8,63.1 648.3,64.0 588.1,83.4 619.6,68.8 610.2,81.3 652.5,59.0 622.3,69.1 653.8,50.5 582.8,87.2 620.9,83.5 590.9,96.8 616.7,81.3 622.2,91.9 662.4,35.1 635.5,79.8 638.2,69.3 637.4,53.6 651.7,53.3 596.3,102.6 592.7,80.2 663.0,43.3 615.9,102.0 652.4,53.2 632.2,62.5 607.3,106.8 585.3,85.3 635.4,83.7 589.8,80.5 600.6,92.4 611.9,88.6 610.8,98.8 601.9,94.4 637.1,59.2 606.8,96.5 593.8,90.4 611.6,71.9 652.2,66.0 644.0,55.7 611.9,99.9 656.1,52.2 613.6,64.2 622.5,70.5 598.2,88.6 644.7,67.8 621.1,62.4 634.4,71.7 636.3,62.7 598.6,77.6 625.9,70.7 613.9,65.3 639.4,51.4 626.0,65.7 606.0,76.8 619.3,68.6 631.8,72.2 602.5,79.9 617.7,101.0 603.5,92.2 616.0,87.5 622.9,82.3 652.9,55.2 623.9,64.7 613.9,103.0 627.8,77.0 641.7,43.8 619.6,84.3 628.8,101.1 631.7,102.2 642.2,85.7 636.1,102.2 641.9,83.1 655.6,64.0 621.2,97.2 622.4,105.5 664.4,59.0 646.5,73.3 667.3,59.1 645.9,69.8 660.7,51.3 627.8,111.0 646.7,76.8 636.1,102.1 653.7,84.5 652.0,74.6 635.9,79.2 633.9,99.1 646.3,86.4 650.2,63.6 651.8,66.3 642.9,83.2 633.4,108.2 633.4,95.5 657.3,70.0 664.2,44.2 666.3,45.5 620.2,103.5 652.7,66.9 621.8,104.1 645.8,85.9 627.0,99.2 661.1,35.8 658.8,59.5 644.1,88.8 639.7,91.2 625.1,108.8 635.0,84.2 644.9,79.9 665.9,50.9 653.4,67.8 647.3,83.8 628.2,111.7 613.8,111.2 603.1,102.4 603.5,95.8 607.4,105.1 603.0,96.3 607.4,99.2 614.9,99.3 615.2,104.3 601.5,101.6 606.5,94.5 616.5,104.0 599.8,102.0 605.3,97.9 606.4,101.0 621.3,104.5 601.5,94.2 599.7,96.6 608.5,104.3 606.3,97.7 602.8,97.5 600.6,95.1 613.6,108.4 612.7,105.5 609.3,104.3 617.3,107.6 587.5,92.9 604.0,99.8 603.7,92.9 590.9,95.0 590.6,91.2 591.4,97.1 587.3,87.1 593.7,106.9 603.2,102.7 594.5,97.4 593.1,92.2 605.1,95.7 593.2,99.5 601.3,107.0 588.9,86.1 599.7,103.8 595.0,100.4 593.9,101.8 613.5,102.9 601.4,89.5 593.3,92.9 596.1,104.9 600.8,93.6 602.0,94.1 598.9,94.8 603.4,84.2 593.7,103.7 589.4,99.9 588.9,94.9 600.1,99.6 578.4,87.8 604.0,104.0 588.6,89.1 600.5,107.8 593.2,104.8 596.8,104.0 593.2,94.8 588.4,91.4 596.2,95.5 585.5,94.8 585.6,85.7 603.0,99.0 594.8,93.4 607.5,91.1 587.8,99.7 596.3,88.0 601.3,90.9 600.1,94.1 599.7,94.1 601.5,97.5 626.2,123.3 629.6,118.2 621.1,117.3 623.5,129.2 619.4,114.2 620.9,111.7 623.1,115.3 619.6,125.3 619.8,117.1 625.2,115.3 624.1,125.2 628.1,125.4 657.3,62.5 657.0,62.0 643.0,86.0 644.6,86.0 634.0,98.0 626.0,95.8 624.0,117.0 622.0,122.0 619.7,126.5 609.0,131.0 654.7,47.7 648.0,65.0 662.8,31.6 654.7,24.8 641.0,37.0 627.7,43.7 603.5,61.0 543.0,83.0 507.0,95.8 666.8,20.0"/></defs>
<use href="#pbN3" marker-start="url(#boN3)" marker-mid="url(#boN3)" marker-end="url(#boN3)"/>
<use href="#pbN3" marker-start="url(#biN3)" marker-mid="url(#biN3)" marker-end="url(#biN3)"/>
<defs><polyline id="pbREM" points="556.0,84.9 535.0,85.2 577.8,90.1 583.8,88.1 492.7,106.4 574.0,90.6 508.5,106.3 581.4,92.6 563.1,92.0 497.3,101.3 567.9,88.6 496.4,104.2 499.8,104.0 585.0,89.2 590.4,92.7 548.3,99.7 553.0,99.4 532.6,94.3 577.3,89.9 563.9,88.3 509.2,112.9 534.1,101.4 509.7,97.4 544.6,96.8 575.1,89.5 530.0,98.8 517.2,102.4 583.9,85.6 583.6,80.8 488.7,99.0 584.5,89.9 506.0,113.4 540.2,99.6 580.7,93.5 509.6,102.9 562.1,93.9 506.6,97.8 519.0,98.6 567.8,90.9 509.0,108.0 538.2,101.8 563.4,94.9 505.5,114.1 575.2,86.3 568.3,91.3 512.2,105.9 525.9,96.2 548.2,94.0 527.5,94.6 481.6,103.6 478.1,106.0 532.2,93.3 499.3,104.2 585.3,84.4 582.9,91.8 580.5,82.4 586.4,87.9 560.6,94.4 554.3,91.8 497.6,105.6 553.4,95.8 544.1,98.9 533.7,93.7 594.0,74.1 563.8,84.0 485.1,108.8 499.5,96.3 573.4,90.6 524.9,101.8 540.5,96.8 511.2,90.6 539.2,103.7 529.6,93.2 507.9,100.6 572.1,96.9 572.8,91.0 485.2,104.0 497.5,108.0 482.6,106.1 515.3,105.3 524.0,105.5 522.4,107.7 513.3,106.1 505.2,106.1 526.2,105.3 488.6,111.1 507.7,105.0 515.8,109.3 490.2,107.8 488.7,109.2 533.1,96.5 513.0,101.4 533.5,94.7 529.0,97.4 513.1,99.1 587.5,83.4 487.2,110.3 534.1,99.4 492.3,112.8 481.2,99.1 481.9,107.2 523.5,105.5 559.0,88.2 560.2,89.9 565.0,85.2 542.4,95.7 506.1,99.4 557.2,94.4 578.5,95.2 552.3,96.8 511.1,99.4 559.0,88.3 504.8,106.4 579.9,88.8 524.5,98.8 568.8,97.0 493.7,100.8 534.1,95.7 578.9,85.6 588.7,78.6 570.8,95.7 556.3,89.3 525.0,90.6 568.5,83.9 539.9,100.2 531.5,96.7 548.1,94.0 520.3,98.7 572.9,87.1 556.7,91.4 545.0,94.2 534.4,91.0 542.9,92.7 573.8,81.0 530.1,100.5 580.0,86.6 508.8,104.7 502.5,105.8 539.2,89.9 545.9,90.6 586.5,92.8 499.8,109.9 490.8,107.8 546.5,92.1 508.5,92.6 544.9,99.5 473.2,103.9 551.2,87.5 546.4,95.5 544.0,88.8 550.7,131.3 518.4,103.4 541.3,94.9 579.3,105.4 521.0,118.4 524.2,118.6 543.1,105.1 550.8,106.4 515.9,101.3 571.7,97.1 547.5,104.1 530.9,99.1 519.5,119.3 528.0,115.5 550.6,126.2 514.7,111.6 555.8,98.7 565.6,116.1 534.5,125.8 551.8,97.0 558.5,101.7 578.1,97.0 506.5,108.8 571.7,100.9 547.9,122.0 539.4,117.4 566.3,99.1 566.3,104.6 569.0,113.4 570.8,90.2 540.8,106.8 536.2,101.6 520.5,111.6 548.4,116.8 529.5,121.7 567.4,98.4 515.2,128.8 545.9,121.5 548.9,98.7 528.7,112.0 577.6,101.2 540.1,124.8 538.9,105.7 541.2,121.9 548.5,107.5 536.9,104.6 574.6,98.2 574.0,87.4 528.8,114.8 543.7,132.8 526.0,120.8 530.5,115.0 574.2,101.2 560.3,107.3 562.7,120.0 544.4,106.0 562.6,113.7 524.3,123.7 544.2,103.2 573.3,89.9 573.2,109.0 537.8,100.9 565.5,105.4 579.3,119.8 547.5,122.3 571.7,88.8 531.7,107.8 564.2,110.5 528.5,106.5 537.2,125.8 552.0,106.7 531.6,108.7 532.4,110.7 513.8,105.9 538.5,89.8 510.0,109.4 572.0,109.0 572.5,108.0 546.4,119.6 542.8,122.0 517.6,123.8 515.5,101.4 537.3,103.4 568.3,117.9 563.7,105.4 565.3,104.8 548.2,117.1 538.5,109.6 512.1,110.9 520.0,127.2 494.9,121.7 506.6,124.3 504.5,117.1 502.5,120.2 498.9,110.0 489.8,117.8 492.9,114.3 493.2,115.8 520.1,117.9 495.7,115.7 500.9,116.1 505.2,120.9 463.0,98.5 487.0,100.4 488.5,108.5"/></defs>
<use href="#pbREM" marker-start="url(#boREM)" marker-mid="url(#boREM)" marker-end="url(#boREM)"/>
<use href="#pbREM" marker-start="url(#biREM)" marker-mid="url(#biREM)" marker-end="url(#biREM)"/>
<defs><polyline id="pbN1" points="537.3,96.5 482.9,103.0 589.3,80.0 507.5,98.8 497.6,104.0 591.0,81.4 594.8,80.6 582.5,83.8 523.1,99.7 551.0,98.1 519.0,109.0 486.4,99.1 524.9,99.4 501.0,96.9 563.7,85.6 550.1,83.3 574.7,97.6 579.0,78.7 536.4,93.4 520.1,101.4 494.7,102.9 513.8,101.2 522.7,92.5 501.5,107.4 562.7,92.0 541.9,96.5 504.1,99.9 597.8,75.8 545.8,97.2 579.7,90.8 497.4,104.2 574.6,86.2 577.7,77.3 500.4,98.7 559.7,91.1 511.9,100.3 523.0,100.4 596.0,80.9 530.1,101.4 536.0,102.1 508.2,104.0 552.0,96.7 554.4,92.4 546.3,96.8 509.2,92.5 495.2,101.5 490.9,112.5 541.5,91.0 583.5,85.2 545.8,95.3 571.0,105.4 576.2,106.1 540.4,135.2 558.1,114.8 564.7,105.4 535.6,116.2 550.2,107.7 549.3,115.4 570.3,103.8 563.2,128.8 552.4,139.8 576.4,94.4 543.6,121.6 567.3,133.5 573.2,102.5 574.5,105.5 581.1,106.2 572.0,94.0 539.5,131.7 574.2,101.1 575.2,117.0 541.8,123.6 537.2,124.6 548.2,123.2 527.1,110.4 535.0,113.4 564.4,116.3 580.6,97.2 581.6,105.7 540.2,140.0 561.8,108.4 551.3,119.4 553.5,134.9 573.1,107.2 542.3,138.1 562.3,126.6 531.8,115.5 534.0,128.2 535.7,114.6 572.0,105.5 583.5,101.0 536.8,133.3 579.5,102.1 573.9,105.3 557.1,136.7 558.8,124.8 577.2,108.1 566.2,113.2 588.9,96.5 556.3,120.8 552.3,116.9 530.4,127.9 538.5,114.3 553.5,127.7 560.2,116.0 549.6,125.2 570.3,126.6 543.8,123.9 578.9,111.0 555.2,109.5 565.0,111.4 575.9,102.7 583.1,99.3 567.3,134.5 566.2,131.0 539.9,134.8 571.2,119.2 549.1,122.0 537.3,125.3 556.4,137.2 555.9,118.8 553.1,121.0 544.8,113.8 557.3,98.6 585.2,107.2 552.0,111.0 560.2,115.6 568.8,103.6 555.3,130.8 541.8,137.6 585.7,110.1 536.1,133.1 573.5,93.6 534.6,107.1 548.4,105.7 561.8,102.2 540.3,120.3 577.6,104.7 549.4,126.9 558.0,125.3 535.8,135.1 588.2,104.3 576.8,101.5 546.9,116.2 531.2,122.7 537.6,119.9 540.0,113.0 543.7,126.2 546.1,138.3 560.7,117.8 540.9,136.4 539.3,112.2 538.9,118.7 535.4,127.0 568.0,104.1 577.3,96.5 572.7,102.4 574.8,106.9 570.6,118.1 549.5,131.6 540.5,131.2 569.9,107.1 568.8,101.7 540.0,127.5 562.8,113.6 540.5,138.2 584.6,96.6 571.6,102.3 566.6,115.7 552.4,144.4 548.8,110.9 546.1,120.9 549.1,133.2 583.4,111.0 540.3,119.5 553.0,103.8 556.2,120.2 571.2,106.3 542.8,134.8 585.4,108.3 556.4,99.8 541.8,126.6 529.3,131.2 552.9,126.6 562.7,130.9 562.3,103.4 566.1,125.5 580.8,115.4 550.5,121.2 549.4,142.5 536.7,110.8 556.7,136.9 564.8,122.6 561.0,133.2 561.4,113.6 567.1,125.1 552.0,109.5 541.6,107.4 561.5,120.9 564.0,129.3 583.9,109.3 582.3,96.6 583.2,100.0 575.0,124.1 578.0,116.2 573.2,95.5 555.4,140.2 580.9,109.4 564.2,123.0 553.8,108.1 556.5,103.6 547.3,118.1 561.8,106.3 567.4,113.4 564.3,131.0 538.9,117.6 544.9,147.5 561.0,128.7 578.8,93.6 564.3,123.1 564.6,111.3 534.4,121.0 577.3,104.9 546.0,140.9 538.5,131.3 566.7,135.3 577.5,108.7 537.1,127.5 587.2,94.6 550.8,110.8 545.1,125.0 560.2,101.9 569.3,117.3 545.0,122.3 545.2,107.9 579.4,112.3 577.5,123.0 566.8,131.1 589.6,100.4 550.7,139.4 558.6,118.8 553.1,135.4 586.3,109.1 552.4,144.5 563.1,126.0 562.0,113.3 572.0,117.7 565.4,121.9 576.4,115.5 558.7,140.0 587.1,105.0 574.8,118.3 562.6,134.0 537.4,121.9 561.9,104.5 561.4,104.7 553.3,129.6 543.9,127.1 554.8,124.0 575.8,114.3 570.3,124.7 548.4,129.2 564.3,122.2 559.9,130.8 555.2,135.4 556.8,128.5 544.5,122.0 550.6,126.5 568.7,112.5 588.6,99.5 576.8,102.1 568.1,109.7 559.6,106.6 540.2,124.7 564.8,114.6 562.8,117.9 551.7,131.9 581.6,112.4 550.9,131.8 545.9,121.1 569.6,120.5 540.1,108.0 574.1,122.2 559.3,112.1 577.6,99.5 536.0,134.5 547.9,137.6 567.3,108.1 574.4,99.1 579.1,96.1 539.6,113.9 532.6,125.9 557.8,103.5 560.7,107.7 537.2,133.0 532.4,117.3 561.5,136.7 537.4,132.0 545.6,123.3 545.9,119.6 565.4,104.3 545.9,126.5 561.5,108.8 587.7,96.8 537.8,124.5 543.0,122.4 546.4,109.2 547.6,121.4 549.6,117.8 577.0,94.9 574.6,96.7 577.8,115.0 563.3,106.7 559.7,117.0 557.9,112.0 551.2,141.6 571.9,116.9 540.8,131.6 583.3,110.6 553.7,104.4 542.4,117.5 556.1,104.4 552.8,120.7 551.7,118.3 590.9,108.0 559.3,120.4 568.9,118.0 556.0,140.0 566.4,119.3 569.8,121.4 578.3,99.7 554.2,111.4 573.5,102.1 558.7,134.9 576.2,123.8 568.0,126.7 536.5,135.3 533.6,137.8 566.6,114.4 566.3,114.9 540.1,118.9 589.3,97.5 573.4,113.6 585.5,105.3 547.5,109.2 544.2,131.3 582.6,103.7 586.0,96.0 549.9,111.8 578.7,97.7 551.5,112.2 553.1,109.4 550.8,107.0 558.4,129.4 560.0,105.6 557.1,139.7 552.9,97.3 572.7,105.1 551.2,106.6 585.6,98.9 559.4,136.9 535.9,128.5 560.2,110.4 561.5,102.5 552.6,121.3 545.1,106.2 558.7,127.9 559.6,113.7 567.4,123.0 582.7,106.4 579.0,109.8 582.8,97.6 535.2,140.1 567.3,107.7 551.0,142.1 564.5,109.3 545.0,139.9 556.3,140.6 542.5,119.9 582.1,94.6 573.3,115.8 552.9,114.6 561.2,105.8 565.8,100.9 573.4,102.2 533.3,135.0 574.2,106.5 565.7,124.9 544.9,124.6 563.4,116.2 555.2,128.7 545.7,112.9 535.8,118.8 559.0,113.0 556.6,103.1 549.6,124.4 578.8,121.6 571.6,103.3 567.6,120.1 544.5,110.4 580.5,114.0 563.1,113.5 585.3,105.7 573.0,93.0 550.6,106.9 538.5,110.6 529.0,108.3 551.0,115.3 563.8,115.4 551.0,138.4 561.5,109.9 571.1,104.7 589.4,108.3 538.3,116.9 559.2,117.9 568.1,123.9 562.1,134.4 553.3,133.5 583.2,105.0 563.8,129.2 564.1,104.4 568.2,119.7 566.2,128.2 586.3,95.4 536.5,129.7 552.2,108.0 534.6,109.5 571.5,110.0 555.5,105.6 565.0,119.7 555.4,135.9 577.8,112.4 551.0,104.6 581.1,103.6 561.4,110.2 568.4,113.1 546.1,101.8 571.6,115.1 555.9,126.9 566.9,104.4 569.9,120.4 564.5,121.0 553.6,140.7 556.2,107.7 550.1,118.6 545.2,105.6 539.9,117.4 555.3,139.1 543.7,126.7 552.0,127.2 576.2,127.1 558.1,135.7 570.4,132.8 538.6,122.7 568.7,129.0 530.3,120.8 536.4,131.2 548.0,118.4 545.6,131.5 537.1,130.3 568.7,118.5 553.2,111.1 530.3,108.6 558.1,97.7 580.7,105.2 573.9,106.4 564.9,108.4 569.0,121.7 557.9,126.0 551.2,102.9 579.3,101.0 551.6,113.4 538.9,126.9 582.5,117.7 577.7,99.4 547.9,111.6 540.3,127.7 577.4,114.3 537.7,134.2 547.7,103.7 579.2,94.9 529.7,108.9 502.4,119.8 547.4,141.1 510.1,121.5 572.5,132.4 550.2,103.6 552.6,125.5 564.3,92.2 562.6,135.3 524.1,114.6 568.0,107.9 508.2,115.0 499.9,126.5 507.0,130.1 549.0,105.7 548.9,148.6 541.4,127.9 582.9,100.4 529.0,133.4 514.2,122.5 495.0,127.5 561.8,123.8 576.3,116.1 542.5,122.2 498.2,117.6 517.6,130.3 542.0,134.5 574.0,101.1 584.8,88.7 513.0,144.6 543.0,151.3 527.0,110.4 537.1,131.5 505.9,124.8 534.3,120.4 588.2,108.0 541.7,103.8 507.2,121.4 546.5,132.9 555.6,121.3 539.4,139.6 579.2,90.1 545.4,127.2 496.9,131.8 558.0,154.1 534.2,108.0 520.6,131.9 546.9,141.5 532.4,106.4 513.1,115.3 537.0,148.8 539.3,125.4 542.9,134.6 561.1,153.2 535.1,125.7 527.3,137.4 520.7,125.8 530.4,109.9 573.6,99.4 530.0,115.5 576.6,110.0 547.4,129.7 501.9,128.4 546.2,141.8 566.0,106.4 504.7,125.1 535.6,118.6 526.5,131.4 557.4,148.0 542.0,123.3 519.2,107.2 563.1,140.4 570.3,122.1 524.2,110.6 541.4,113.2 545.3,150.1 538.4,112.6 556.9,136.0 554.4,154.7 532.9,124.2 558.1,129.5 567.1,125.0 543.9,118.3 577.9,122.0 512.9,121.4 512.6,126.6 547.2,119.4 557.6,127.5 511.0,123.6 570.8,96.8 549.8,103.5 520.8,136.9 572.4,121.5 591.0,91.3 524.7,140.4 574.7,112.2 501.3,115.5 563.7,126.5 520.9,137.9 502.4,126.2 535.0,139.8 547.1,140.5 495.3,120.7 521.3,140.8 524.1,128.1 542.8,146.3 539.7,151.6 547.2,153.0 543.7,126.5 563.3,121.9 562.1,127.0 525.1,135.7 490.8,122.8 540.0,112.6 505.2,119.3 489.8,138.1 575.2,113.3 559.5,97.3 518.6,123.7 570.3,102.3 542.6,145.6 563.2,115.7 553.0,115.5 566.5,132.3 520.1,150.5 517.4,143.9 533.9,145.8 567.8,118.8 549.2,140.7 517.0,118.9 579.7,106.3 529.9,140.7 554.6,130.0 548.6,121.2 498.8,125.2 578.1,90.9 575.0,96.5 550.3,107.4 526.5,124.4 533.9,151.3 524.5,134.5 548.3,107.5 549.6,107.6 508.9,118.9 552.9,116.6 507.5,131.4 564.8,113.2 562.9,140.8 574.9,115.7 538.6,149.9 543.7,114.0 563.5,128.6 553.7,137.1 529.2,126.0 525.0,119.5 552.2,132.5 522.0,136.0 566.6,95.5 580.4,116.6 542.3,136.5 549.3,103.8 514.4,117.9 513.2,127.4 505.4,134.1 559.7,146.5 548.2,121.1 558.0,122.1 512.4,144.1 538.0,122.3 531.7,141.1 542.0,120.9 567.7,126.7 553.5,99.4 528.4,153.1 550.6,112.6 532.6,118.6 525.8,106.6 530.6,155.0 557.8,106.7 532.6,109.0 534.0,119.1 577.6,92.7 571.7,113.6 565.8,99.3 551.1,121.3 560.5,96.7 530.1,118.3 552.5,137.8 556.1,128.6 550.9,150.6 515.8,135.2 545.2,141.2 533.4,116.0 516.1,141.7 520.5,141.8 563.3,117.5 537.5,139.8 579.6,120.1 552.8,154.8 543.3,131.4 532.2,139.2 580.8,103.4 549.0,103.2 580.1,96.5 550.9,99.0 543.6,147.8 556.7,153.3 558.9,147.9 576.3,116.3 546.6,115.1 523.9,146.7 513.4,147.9 555.8,125.2 523.5,117.4 529.0,151.3 537.1,126.9 578.9,91.4 574.9,119.6 493.8,129.6 557.1,115.8 563.8,113.1 560.7,113.3 529.8,112.7 560.5,136.8 575.9,109.7 570.8,113.9 534.8,132.0 540.2,126.1 528.0,100.9 568.0,110.7 500.6,124.3 537.4,142.8 569.2,117.5 556.2,106.8 491.8,123.7 547.0,151.3 489.1,128.7 564.9,96.9 539.3,128.3 500.3,118.4 544.4,132.4 562.9,131.3 544.7,110.1 536.4,129.6 573.4,114.0 512.6,133.6 551.5,112.1 565.6,110.4 524.1,143.2 524.7,144.2 550.4,95.1 550.1,123.6 525.1,134.2 546.9,148.0 570.5,94.8 523.8,140.8 517.2,122.6 512.3,121.4 509.8,138.1 575.6,100.2 560.3,110.7 529.7,113.1 520.1,98.0 519.5,124.7 555.8,128.0 542.9,139.4 555.3,136.4 517.0,123.8 550.3,130.9 589.2,96.8 591.8,110.3 570.8,99.6 504.2,118.3 548.2,147.4 528.1,136.8 539.5,114.3 541.5,134.0 538.4,130.8 553.3,98.6 519.5,138.9 537.5,116.8 511.7,121.4 563.3,142.5 586.4,108.5 575.1,126.6 506.9,136.0 558.6,134.7 516.6,125.5 511.5,150.1 520.1,111.6 555.7,152.7 559.6,141.4 528.1,122.0 562.5,107.8 563.5,140.7 566.0,98.7 532.6,149.2 524.3,151.7 553.0,104.3 513.7,113.3 570.5,126.7 562.2,112.0 524.8,100.1 562.5,104.5 547.2,149.3 589.5,110.2 505.2,136.7 561.1,107.8 501.4,122.7 541.6,152.0 501.9,124.7 552.7,102.3 545.1,104.6 559.2,139.0 524.7,143.0 554.4,98.3 573.4,101.9 557.1,136.2 552.7,125.1 520.1,126.4 538.7,104.9 559.8,97.6 512.9,133.7 511.6,112.7 509.3,134.0 552.0,149.9 570.4,130.4 524.2,127.4 511.9,137.2 554.7,146.8 539.8,115.3 551.6,94.1 543.0,124.8 499.5,111.8 547.6,124.0 569.3,101.1 574.7,98.1 582.2,112.8 574.5,108.4 509.4,114.5 558.1,129.8 562.8,120.9 527.0,144.0 580.9,104.2 527.6,129.5 563.5,137.4 545.7,97.9 537.6,128.3 523.0,139.5 572.1,110.7 542.1,119.1 532.1,110.3 550.9,107.4 554.8,111.7 528.2,111.0 495.9,136.9 562.3,97.4 592.0,109.7 587.5,101.2 550.3,144.7 536.3,99.7 525.5,146.5 524.2,115.7 582.7,96.4 549.7,125.9 550.0,114.1 536.3,134.0 539.7,128.6 566.4,118.6 537.6,120.5 568.5,103.8 541.8,143.6 547.9,155.4 507.4,123.8 567.7,102.0 555.0,127.2 556.6,155.0 515.0,128.2 576.8,103.9 571.3,131.3 505.7,119.2 578.4,115.0 578.7,93.5 516.6,148.5 561.7,98.2 513.6,122.4 566.7,116.2 555.0,134.7 559.3,137.7 503.0,117.6 552.2,136.6 548.6,110.7 548.6,147.7 543.3,153.1 571.4,109.4 563.1,139.2 522.6,140.6 562.1,130.3 536.2,117.4 596.6,113.8 566.6,124.4 597.7,147.9 566.4,127.3 557.9,126.6 608.5,115.4 559.6,126.5 589.0,142.2 577.5,155.5 598.7,105.6 599.8,107.4 600.1,115.4 567.3,133.2 595.3,120.7 605.2,132.7 589.8,134.2 573.3,139.9 565.4,124.3 592.3,101.9 584.8,125.0 589.2,130.9 609.9,120.2 578.3,120.6 587.8,149.9 566.6,156.3 574.2,114.2 599.3,120.6 574.8,143.9 592.4,134.6 568.0,141.0 600.9,124.6 560.1,121.3 588.9,124.2 599.9,119.3 609.5,128.4 564.2,122.9 593.2,141.4 593.1,119.7 582.9,136.2 595.2,132.2 587.9,110.5 588.1,119.5 596.0,145.7 586.0,138.8 572.3,129.8 527.0,137.9 509.5,132.5 534.0,123.7 505.5,138.2 507.6,151.2 524.4,122.3 525.5,127.1 506.8,145.5 535.3,145.2 505.7,110.7 522.4,115.9 527.5,146.7 495.5,126.2 510.0,134.4 520.7,130.0 515.7,114.2 513.2,135.3 508.6,141.1 514.5,130.7 514.1,141.1 514.2,133.0 506.8,125.6 511.5,126.8 508.6,119.7 521.7,121.7 506.0,149.8 511.0,154.7 524.0,117.2 534.2,120.1 537.0,139.3 526.1,134.1 512.1,132.4 493.1,137.0 508.4,129.1 529.5,129.8 496.9,136.7 503.2,137.7 503.2,132.4 511.1,150.6 499.6,132.8 461.6,94.5 463.0,104.0 469.6,110.7 570.0,169.6 560.8,176.6 559.4,178.0 630.0,51.5 630.0,58.0 620.4,78.5 610.8,67.0"/></defs>
<use href="#pbN1" marker-start="url(#boN1)" marker-mid="url(#boN1)" marker-end="url(#boN1)"/>
<use href="#pbN1" marker-start="url(#biN1)" marker-mid="url(#biN1)" marker-end="url(#biN1)"/>
</g>
<rect x="388" y="233.7" width="315" height="1.7" fill="#747474"/>
<!-- legend B -->
<rect x="633" y="130.5" width="65.3" height="94.8" fill="#fff" stroke="#555" stroke-width="1"/>
<g filter="url(#bl)"><path d="M646.2 140.6L648.8 138.2L651.4 140.6L648.8 143.0Z" fill="#1a74dc"/>
<path d="M646.2 158.9L648.8 156.5L651.4 158.9L648.8 161.3Z" fill="#8a3c1c"/>
<path d="M646.2 177.2L648.8 174.8L651.4 177.2L648.8 179.6Z" fill="#e01c1c"/>
<path d="M646.2 195.5L648.8 193.1L651.4 195.5L648.8 197.9Z" fill="#e01ce0"/>
<path d="M646.2 213.8L648.8 211.4L651.4 213.8L648.8 216.2Z" fill="#f2f020"/></g>
</svg>
<div class="lbl" style="left:0.5px;top:-0.3px;transform:scaleX(1.06);transform-origin:0 0">A</div>
<div class="lbl" style="left:362px;top:-0.6px">B</div>
<div class="ax" style="left:-7px;top:115px;transform:rotate(-90deg);transform-origin:center">PC2</div>
<div class="ax" style="left:358.5px;top:114.5px;transform:rotate(-90deg);transform-origin:center">PC2</div>
<div class="ax" style="left:166px;top:243px">PC1</div>
<div class="ax" style="left:531px;top:240px">PC1</div>
<div class="leg" style="left:299.8px;top:12.3px;font-size:15.5px;letter-spacing:0.8px">W</div>
<div class="leg" style="left:300px;top:31.1px;font-size:15.5px;letter-spacing:0.8px">N2</div>
<div class="leg" style="left:300px;top:49.9px;font-size:15.5px;letter-spacing:0.8px">N3</div>
<div class="leg" style="left:300px;top:68.7px;font-size:15.5px;letter-spacing:0.8px">REM</div>
<div class="leg" style="left:300px;top:87.5px;font-size:15.5px;letter-spacing:0.8px">N1</div>
<div class="leg" style="left:662px;top:134.2px;font-size:14px;letter-spacing:0.6px">W</div>
<div class="leg" style="left:662px;top:152.5px;font-size:14px;letter-spacing:0.6px">N2</div>
<div class="leg" style="left:662px;top:170.8px;font-size:14px;letter-spacing:0.6px">N3</div>
<div class="leg" style="left:662px;top:189.1px;font-size:14px;letter-spacing:0.6px">REM</div>
<div class="leg" style="left:662px;top:207.4px;font-size:14px;letter-spacing:0.6px">N1</div>
</body></html>
